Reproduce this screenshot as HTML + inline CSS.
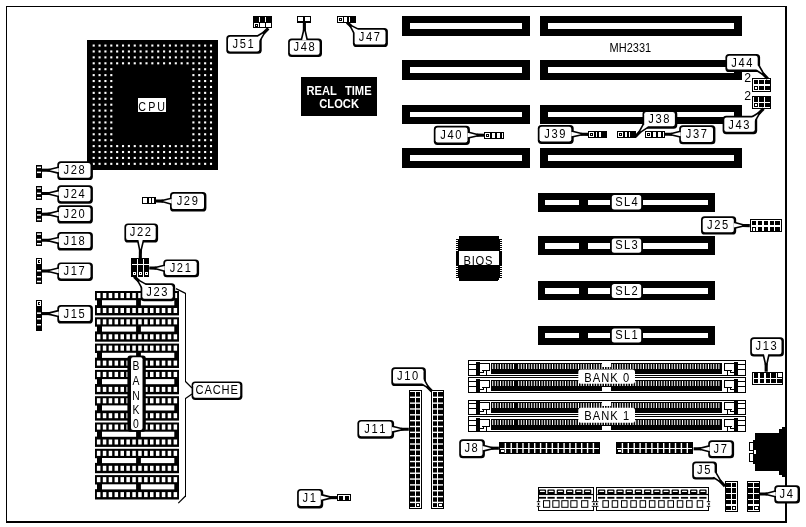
<!DOCTYPE html>
<html><head><meta charset="utf-8"><title>MH2331</title>
<style>
html,body{margin:0;padding:0;background:#fff;}
body{width:806px;height:527px;overflow:hidden;}
svg{display:block;font-family:"Liberation Sans",sans-serif;will-change:transform;}
</style></head><body>
<svg width="806" height="527" viewBox="0 0 806 527" shape-rendering="crispEdges">
<rect x="0" y="0" width="806" height="527" fill="#fff"/>
<rect x="6" y="6" width="781" height="1" fill="#000"/>
<rect x="6" y="6" width="1.2" height="516.5" fill="#000"/>
<rect x="785.2" y="6" width="1.8" height="516.5" fill="#000"/>
<rect x="6" y="520.6" width="781" height="2" fill="#000"/>
<rect x="87" y="40" width="131" height="130" fill="#000"/>
<rect x="92.65" y="44.5" width="2.1" height="2.1" fill="#fff" shape-rendering="geometricPrecision"/>
<rect x="98.52" y="44.5" width="2.1" height="2.1" fill="#fff" shape-rendering="geometricPrecision"/>
<rect x="104.38" y="44.5" width="2.1" height="2.1" fill="#fff" shape-rendering="geometricPrecision"/>
<rect x="110.25" y="44.5" width="2.1" height="2.1" fill="#fff" shape-rendering="geometricPrecision"/>
<rect x="116.11" y="44.5" width="2.1" height="2.1" fill="#fff" shape-rendering="geometricPrecision"/>
<rect x="121.98" y="44.5" width="2.1" height="2.1" fill="#fff" shape-rendering="geometricPrecision"/>
<rect x="127.84" y="44.5" width="2.1" height="2.1" fill="#fff" shape-rendering="geometricPrecision"/>
<rect x="133.7" y="44.5" width="2.1" height="2.1" fill="#fff" shape-rendering="geometricPrecision"/>
<rect x="139.57" y="44.5" width="2.1" height="2.1" fill="#fff" shape-rendering="geometricPrecision"/>
<rect x="145.44" y="44.5" width="2.1" height="2.1" fill="#fff" shape-rendering="geometricPrecision"/>
<rect x="151.3" y="44.5" width="2.1" height="2.1" fill="#fff" shape-rendering="geometricPrecision"/>
<rect x="157.16" y="44.5" width="2.1" height="2.1" fill="#fff" shape-rendering="geometricPrecision"/>
<rect x="163.03" y="44.5" width="2.1" height="2.1" fill="#fff" shape-rendering="geometricPrecision"/>
<rect x="168.89" y="44.5" width="2.1" height="2.1" fill="#fff" shape-rendering="geometricPrecision"/>
<rect x="174.76" y="44.5" width="2.1" height="2.1" fill="#fff" shape-rendering="geometricPrecision"/>
<rect x="180.62" y="44.5" width="2.1" height="2.1" fill="#fff" shape-rendering="geometricPrecision"/>
<rect x="186.49" y="44.5" width="2.1" height="2.1" fill="#fff" shape-rendering="geometricPrecision"/>
<rect x="192.35" y="44.5" width="2.1" height="2.1" fill="#fff" shape-rendering="geometricPrecision"/>
<rect x="198.22" y="44.5" width="2.1" height="2.1" fill="#fff" shape-rendering="geometricPrecision"/>
<rect x="204.08" y="44.5" width="2.1" height="2.1" fill="#fff" shape-rendering="geometricPrecision"/>
<rect x="209.95" y="44.5" width="2.1" height="2.1" fill="#fff" shape-rendering="geometricPrecision"/>
<rect x="92.65" y="50.41" width="2.1" height="2.1" fill="#fff" shape-rendering="geometricPrecision"/>
<rect x="98.52" y="50.41" width="2.1" height="2.1" fill="#fff" shape-rendering="geometricPrecision"/>
<rect x="104.38" y="50.41" width="2.1" height="2.1" fill="#fff" shape-rendering="geometricPrecision"/>
<rect x="110.25" y="50.41" width="2.1" height="2.1" fill="#fff" shape-rendering="geometricPrecision"/>
<rect x="116.11" y="50.41" width="2.1" height="2.1" fill="#fff" shape-rendering="geometricPrecision"/>
<rect x="121.98" y="50.41" width="2.1" height="2.1" fill="#fff" shape-rendering="geometricPrecision"/>
<rect x="127.84" y="50.41" width="2.1" height="2.1" fill="#fff" shape-rendering="geometricPrecision"/>
<rect x="133.7" y="50.41" width="2.1" height="2.1" fill="#fff" shape-rendering="geometricPrecision"/>
<rect x="139.57" y="50.41" width="2.1" height="2.1" fill="#fff" shape-rendering="geometricPrecision"/>
<rect x="145.44" y="50.41" width="2.1" height="2.1" fill="#fff" shape-rendering="geometricPrecision"/>
<rect x="151.3" y="50.41" width="2.1" height="2.1" fill="#fff" shape-rendering="geometricPrecision"/>
<rect x="157.16" y="50.41" width="2.1" height="2.1" fill="#fff" shape-rendering="geometricPrecision"/>
<rect x="163.03" y="50.41" width="2.1" height="2.1" fill="#fff" shape-rendering="geometricPrecision"/>
<rect x="168.89" y="50.41" width="2.1" height="2.1" fill="#fff" shape-rendering="geometricPrecision"/>
<rect x="174.76" y="50.41" width="2.1" height="2.1" fill="#fff" shape-rendering="geometricPrecision"/>
<rect x="180.62" y="50.41" width="2.1" height="2.1" fill="#fff" shape-rendering="geometricPrecision"/>
<rect x="186.49" y="50.41" width="2.1" height="2.1" fill="#fff" shape-rendering="geometricPrecision"/>
<rect x="192.35" y="50.41" width="2.1" height="2.1" fill="#fff" shape-rendering="geometricPrecision"/>
<rect x="198.22" y="50.41" width="2.1" height="2.1" fill="#fff" shape-rendering="geometricPrecision"/>
<rect x="204.08" y="50.41" width="2.1" height="2.1" fill="#fff" shape-rendering="geometricPrecision"/>
<rect x="209.95" y="50.41" width="2.1" height="2.1" fill="#fff" shape-rendering="geometricPrecision"/>
<rect x="92.65" y="56.33" width="2.1" height="2.1" fill="#fff" shape-rendering="geometricPrecision"/>
<rect x="98.52" y="56.33" width="2.1" height="2.1" fill="#fff" shape-rendering="geometricPrecision"/>
<rect x="104.38" y="56.33" width="2.1" height="2.1" fill="#fff" shape-rendering="geometricPrecision"/>
<rect x="110.25" y="56.33" width="2.1" height="2.1" fill="#fff" shape-rendering="geometricPrecision"/>
<rect x="116.11" y="56.33" width="2.1" height="2.1" fill="#fff" shape-rendering="geometricPrecision"/>
<rect x="121.98" y="56.33" width="2.1" height="2.1" fill="#fff" shape-rendering="geometricPrecision"/>
<rect x="127.84" y="56.33" width="2.1" height="2.1" fill="#fff" shape-rendering="geometricPrecision"/>
<rect x="133.7" y="56.33" width="2.1" height="2.1" fill="#fff" shape-rendering="geometricPrecision"/>
<rect x="139.57" y="56.33" width="2.1" height="2.1" fill="#fff" shape-rendering="geometricPrecision"/>
<rect x="145.44" y="56.33" width="2.1" height="2.1" fill="#fff" shape-rendering="geometricPrecision"/>
<rect x="151.3" y="56.33" width="2.1" height="2.1" fill="#fff" shape-rendering="geometricPrecision"/>
<rect x="157.16" y="56.33" width="2.1" height="2.1" fill="#fff" shape-rendering="geometricPrecision"/>
<rect x="163.03" y="56.33" width="2.1" height="2.1" fill="#fff" shape-rendering="geometricPrecision"/>
<rect x="168.89" y="56.33" width="2.1" height="2.1" fill="#fff" shape-rendering="geometricPrecision"/>
<rect x="174.76" y="56.33" width="2.1" height="2.1" fill="#fff" shape-rendering="geometricPrecision"/>
<rect x="180.62" y="56.33" width="2.1" height="2.1" fill="#fff" shape-rendering="geometricPrecision"/>
<rect x="186.49" y="56.33" width="2.1" height="2.1" fill="#fff" shape-rendering="geometricPrecision"/>
<rect x="192.35" y="56.33" width="2.1" height="2.1" fill="#fff" shape-rendering="geometricPrecision"/>
<rect x="198.22" y="56.33" width="2.1" height="2.1" fill="#fff" shape-rendering="geometricPrecision"/>
<rect x="204.08" y="56.33" width="2.1" height="2.1" fill="#fff" shape-rendering="geometricPrecision"/>
<rect x="209.95" y="56.33" width="2.1" height="2.1" fill="#fff" shape-rendering="geometricPrecision"/>
<rect x="92.65" y="62.25" width="2.1" height="2.1" fill="#fff" shape-rendering="geometricPrecision"/>
<rect x="98.52" y="62.25" width="2.1" height="2.1" fill="#fff" shape-rendering="geometricPrecision"/>
<rect x="104.38" y="62.25" width="2.1" height="2.1" fill="#fff" shape-rendering="geometricPrecision"/>
<rect x="110.25" y="62.25" width="2.1" height="2.1" fill="#fff" shape-rendering="geometricPrecision"/>
<rect x="116.11" y="62.25" width="2.1" height="2.1" fill="#fff" shape-rendering="geometricPrecision"/>
<rect x="121.98" y="62.25" width="2.1" height="2.1" fill="#fff" shape-rendering="geometricPrecision"/>
<rect x="127.84" y="62.25" width="2.1" height="2.1" fill="#fff" shape-rendering="geometricPrecision"/>
<rect x="133.7" y="62.25" width="2.1" height="2.1" fill="#fff" shape-rendering="geometricPrecision"/>
<rect x="139.57" y="62.25" width="2.1" height="2.1" fill="#fff" shape-rendering="geometricPrecision"/>
<rect x="145.44" y="62.25" width="2.1" height="2.1" fill="#fff" shape-rendering="geometricPrecision"/>
<rect x="151.3" y="62.25" width="2.1" height="2.1" fill="#fff" shape-rendering="geometricPrecision"/>
<rect x="157.16" y="62.25" width="2.1" height="2.1" fill="#fff" shape-rendering="geometricPrecision"/>
<rect x="163.03" y="62.25" width="2.1" height="2.1" fill="#fff" shape-rendering="geometricPrecision"/>
<rect x="168.89" y="62.25" width="2.1" height="2.1" fill="#fff" shape-rendering="geometricPrecision"/>
<rect x="174.76" y="62.25" width="2.1" height="2.1" fill="#fff" shape-rendering="geometricPrecision"/>
<rect x="180.62" y="62.25" width="2.1" height="2.1" fill="#fff" shape-rendering="geometricPrecision"/>
<rect x="186.49" y="62.25" width="2.1" height="2.1" fill="#fff" shape-rendering="geometricPrecision"/>
<rect x="192.35" y="62.25" width="2.1" height="2.1" fill="#fff" shape-rendering="geometricPrecision"/>
<rect x="198.22" y="62.25" width="2.1" height="2.1" fill="#fff" shape-rendering="geometricPrecision"/>
<rect x="204.08" y="62.25" width="2.1" height="2.1" fill="#fff" shape-rendering="geometricPrecision"/>
<rect x="209.95" y="62.25" width="2.1" height="2.1" fill="#fff" shape-rendering="geometricPrecision"/>
<rect x="92.65" y="68.16" width="2.1" height="2.1" fill="#fff" shape-rendering="geometricPrecision"/>
<rect x="98.52" y="68.16" width="2.1" height="2.1" fill="#fff" shape-rendering="geometricPrecision"/>
<rect x="104.38" y="68.16" width="2.1" height="2.1" fill="#fff" shape-rendering="geometricPrecision"/>
<rect x="110.25" y="68.16" width="2.1" height="2.1" fill="#fff" shape-rendering="geometricPrecision"/>
<rect x="192.35" y="68.16" width="2.1" height="2.1" fill="#fff" shape-rendering="geometricPrecision"/>
<rect x="198.22" y="68.16" width="2.1" height="2.1" fill="#fff" shape-rendering="geometricPrecision"/>
<rect x="204.08" y="68.16" width="2.1" height="2.1" fill="#fff" shape-rendering="geometricPrecision"/>
<rect x="209.95" y="68.16" width="2.1" height="2.1" fill="#fff" shape-rendering="geometricPrecision"/>
<rect x="92.65" y="74.08" width="2.1" height="2.1" fill="#fff" shape-rendering="geometricPrecision"/>
<rect x="98.52" y="74.08" width="2.1" height="2.1" fill="#fff" shape-rendering="geometricPrecision"/>
<rect x="104.38" y="74.08" width="2.1" height="2.1" fill="#fff" shape-rendering="geometricPrecision"/>
<rect x="110.25" y="74.08" width="2.1" height="2.1" fill="#fff" shape-rendering="geometricPrecision"/>
<rect x="192.35" y="74.08" width="2.1" height="2.1" fill="#fff" shape-rendering="geometricPrecision"/>
<rect x="198.22" y="74.08" width="2.1" height="2.1" fill="#fff" shape-rendering="geometricPrecision"/>
<rect x="204.08" y="74.08" width="2.1" height="2.1" fill="#fff" shape-rendering="geometricPrecision"/>
<rect x="209.95" y="74.08" width="2.1" height="2.1" fill="#fff" shape-rendering="geometricPrecision"/>
<rect x="92.65" y="79.99" width="2.1" height="2.1" fill="#fff" shape-rendering="geometricPrecision"/>
<rect x="98.52" y="79.99" width="2.1" height="2.1" fill="#fff" shape-rendering="geometricPrecision"/>
<rect x="104.38" y="79.99" width="2.1" height="2.1" fill="#fff" shape-rendering="geometricPrecision"/>
<rect x="110.25" y="79.99" width="2.1" height="2.1" fill="#fff" shape-rendering="geometricPrecision"/>
<rect x="192.35" y="79.99" width="2.1" height="2.1" fill="#fff" shape-rendering="geometricPrecision"/>
<rect x="198.22" y="79.99" width="2.1" height="2.1" fill="#fff" shape-rendering="geometricPrecision"/>
<rect x="204.08" y="79.99" width="2.1" height="2.1" fill="#fff" shape-rendering="geometricPrecision"/>
<rect x="209.95" y="79.99" width="2.1" height="2.1" fill="#fff" shape-rendering="geometricPrecision"/>
<rect x="92.65" y="85.91" width="2.1" height="2.1" fill="#fff" shape-rendering="geometricPrecision"/>
<rect x="98.52" y="85.91" width="2.1" height="2.1" fill="#fff" shape-rendering="geometricPrecision"/>
<rect x="104.38" y="85.91" width="2.1" height="2.1" fill="#fff" shape-rendering="geometricPrecision"/>
<rect x="110.25" y="85.91" width="2.1" height="2.1" fill="#fff" shape-rendering="geometricPrecision"/>
<rect x="192.35" y="85.91" width="2.1" height="2.1" fill="#fff" shape-rendering="geometricPrecision"/>
<rect x="198.22" y="85.91" width="2.1" height="2.1" fill="#fff" shape-rendering="geometricPrecision"/>
<rect x="204.08" y="85.91" width="2.1" height="2.1" fill="#fff" shape-rendering="geometricPrecision"/>
<rect x="209.95" y="85.91" width="2.1" height="2.1" fill="#fff" shape-rendering="geometricPrecision"/>
<rect x="92.65" y="91.82" width="2.1" height="2.1" fill="#fff" shape-rendering="geometricPrecision"/>
<rect x="98.52" y="91.82" width="2.1" height="2.1" fill="#fff" shape-rendering="geometricPrecision"/>
<rect x="104.38" y="91.82" width="2.1" height="2.1" fill="#fff" shape-rendering="geometricPrecision"/>
<rect x="110.25" y="91.82" width="2.1" height="2.1" fill="#fff" shape-rendering="geometricPrecision"/>
<rect x="192.35" y="91.82" width="2.1" height="2.1" fill="#fff" shape-rendering="geometricPrecision"/>
<rect x="198.22" y="91.82" width="2.1" height="2.1" fill="#fff" shape-rendering="geometricPrecision"/>
<rect x="204.08" y="91.82" width="2.1" height="2.1" fill="#fff" shape-rendering="geometricPrecision"/>
<rect x="209.95" y="91.82" width="2.1" height="2.1" fill="#fff" shape-rendering="geometricPrecision"/>
<rect x="92.65" y="97.73" width="2.1" height="2.1" fill="#fff" shape-rendering="geometricPrecision"/>
<rect x="98.52" y="97.73" width="2.1" height="2.1" fill="#fff" shape-rendering="geometricPrecision"/>
<rect x="104.38" y="97.73" width="2.1" height="2.1" fill="#fff" shape-rendering="geometricPrecision"/>
<rect x="110.25" y="97.73" width="2.1" height="2.1" fill="#fff" shape-rendering="geometricPrecision"/>
<rect x="192.35" y="97.73" width="2.1" height="2.1" fill="#fff" shape-rendering="geometricPrecision"/>
<rect x="198.22" y="97.73" width="2.1" height="2.1" fill="#fff" shape-rendering="geometricPrecision"/>
<rect x="204.08" y="97.73" width="2.1" height="2.1" fill="#fff" shape-rendering="geometricPrecision"/>
<rect x="209.95" y="97.73" width="2.1" height="2.1" fill="#fff" shape-rendering="geometricPrecision"/>
<rect x="92.65" y="103.65" width="2.1" height="2.1" fill="#fff" shape-rendering="geometricPrecision"/>
<rect x="98.52" y="103.65" width="2.1" height="2.1" fill="#fff" shape-rendering="geometricPrecision"/>
<rect x="104.38" y="103.65" width="2.1" height="2.1" fill="#fff" shape-rendering="geometricPrecision"/>
<rect x="110.25" y="103.65" width="2.1" height="2.1" fill="#fff" shape-rendering="geometricPrecision"/>
<rect x="192.35" y="103.65" width="2.1" height="2.1" fill="#fff" shape-rendering="geometricPrecision"/>
<rect x="198.22" y="103.65" width="2.1" height="2.1" fill="#fff" shape-rendering="geometricPrecision"/>
<rect x="204.08" y="103.65" width="2.1" height="2.1" fill="#fff" shape-rendering="geometricPrecision"/>
<rect x="209.95" y="103.65" width="2.1" height="2.1" fill="#fff" shape-rendering="geometricPrecision"/>
<rect x="92.65" y="109.56" width="2.1" height="2.1" fill="#fff" shape-rendering="geometricPrecision"/>
<rect x="98.52" y="109.56" width="2.1" height="2.1" fill="#fff" shape-rendering="geometricPrecision"/>
<rect x="104.38" y="109.56" width="2.1" height="2.1" fill="#fff" shape-rendering="geometricPrecision"/>
<rect x="110.25" y="109.56" width="2.1" height="2.1" fill="#fff" shape-rendering="geometricPrecision"/>
<rect x="192.35" y="109.56" width="2.1" height="2.1" fill="#fff" shape-rendering="geometricPrecision"/>
<rect x="198.22" y="109.56" width="2.1" height="2.1" fill="#fff" shape-rendering="geometricPrecision"/>
<rect x="204.08" y="109.56" width="2.1" height="2.1" fill="#fff" shape-rendering="geometricPrecision"/>
<rect x="209.95" y="109.56" width="2.1" height="2.1" fill="#fff" shape-rendering="geometricPrecision"/>
<rect x="92.65" y="115.48" width="2.1" height="2.1" fill="#fff" shape-rendering="geometricPrecision"/>
<rect x="98.52" y="115.48" width="2.1" height="2.1" fill="#fff" shape-rendering="geometricPrecision"/>
<rect x="104.38" y="115.48" width="2.1" height="2.1" fill="#fff" shape-rendering="geometricPrecision"/>
<rect x="110.25" y="115.48" width="2.1" height="2.1" fill="#fff" shape-rendering="geometricPrecision"/>
<rect x="192.35" y="115.48" width="2.1" height="2.1" fill="#fff" shape-rendering="geometricPrecision"/>
<rect x="198.22" y="115.48" width="2.1" height="2.1" fill="#fff" shape-rendering="geometricPrecision"/>
<rect x="204.08" y="115.48" width="2.1" height="2.1" fill="#fff" shape-rendering="geometricPrecision"/>
<rect x="209.95" y="115.48" width="2.1" height="2.1" fill="#fff" shape-rendering="geometricPrecision"/>
<rect x="92.65" y="121.39" width="2.1" height="2.1" fill="#fff" shape-rendering="geometricPrecision"/>
<rect x="98.52" y="121.39" width="2.1" height="2.1" fill="#fff" shape-rendering="geometricPrecision"/>
<rect x="104.38" y="121.39" width="2.1" height="2.1" fill="#fff" shape-rendering="geometricPrecision"/>
<rect x="110.25" y="121.39" width="2.1" height="2.1" fill="#fff" shape-rendering="geometricPrecision"/>
<rect x="192.35" y="121.39" width="2.1" height="2.1" fill="#fff" shape-rendering="geometricPrecision"/>
<rect x="198.22" y="121.39" width="2.1" height="2.1" fill="#fff" shape-rendering="geometricPrecision"/>
<rect x="204.08" y="121.39" width="2.1" height="2.1" fill="#fff" shape-rendering="geometricPrecision"/>
<rect x="209.95" y="121.39" width="2.1" height="2.1" fill="#fff" shape-rendering="geometricPrecision"/>
<rect x="92.65" y="127.31" width="2.1" height="2.1" fill="#fff" shape-rendering="geometricPrecision"/>
<rect x="98.52" y="127.31" width="2.1" height="2.1" fill="#fff" shape-rendering="geometricPrecision"/>
<rect x="104.38" y="127.31" width="2.1" height="2.1" fill="#fff" shape-rendering="geometricPrecision"/>
<rect x="110.25" y="127.31" width="2.1" height="2.1" fill="#fff" shape-rendering="geometricPrecision"/>
<rect x="192.35" y="127.31" width="2.1" height="2.1" fill="#fff" shape-rendering="geometricPrecision"/>
<rect x="198.22" y="127.31" width="2.1" height="2.1" fill="#fff" shape-rendering="geometricPrecision"/>
<rect x="204.08" y="127.31" width="2.1" height="2.1" fill="#fff" shape-rendering="geometricPrecision"/>
<rect x="209.95" y="127.31" width="2.1" height="2.1" fill="#fff" shape-rendering="geometricPrecision"/>
<rect x="92.65" y="133.22" width="2.1" height="2.1" fill="#fff" shape-rendering="geometricPrecision"/>
<rect x="98.52" y="133.22" width="2.1" height="2.1" fill="#fff" shape-rendering="geometricPrecision"/>
<rect x="104.38" y="133.22" width="2.1" height="2.1" fill="#fff" shape-rendering="geometricPrecision"/>
<rect x="110.25" y="133.22" width="2.1" height="2.1" fill="#fff" shape-rendering="geometricPrecision"/>
<rect x="192.35" y="133.22" width="2.1" height="2.1" fill="#fff" shape-rendering="geometricPrecision"/>
<rect x="198.22" y="133.22" width="2.1" height="2.1" fill="#fff" shape-rendering="geometricPrecision"/>
<rect x="204.08" y="133.22" width="2.1" height="2.1" fill="#fff" shape-rendering="geometricPrecision"/>
<rect x="209.95" y="133.22" width="2.1" height="2.1" fill="#fff" shape-rendering="geometricPrecision"/>
<rect x="92.65" y="139.14" width="2.1" height="2.1" fill="#fff" shape-rendering="geometricPrecision"/>
<rect x="98.52" y="139.14" width="2.1" height="2.1" fill="#fff" shape-rendering="geometricPrecision"/>
<rect x="104.38" y="139.14" width="2.1" height="2.1" fill="#fff" shape-rendering="geometricPrecision"/>
<rect x="110.25" y="139.14" width="2.1" height="2.1" fill="#fff" shape-rendering="geometricPrecision"/>
<rect x="192.35" y="139.14" width="2.1" height="2.1" fill="#fff" shape-rendering="geometricPrecision"/>
<rect x="198.22" y="139.14" width="2.1" height="2.1" fill="#fff" shape-rendering="geometricPrecision"/>
<rect x="204.08" y="139.14" width="2.1" height="2.1" fill="#fff" shape-rendering="geometricPrecision"/>
<rect x="209.95" y="139.14" width="2.1" height="2.1" fill="#fff" shape-rendering="geometricPrecision"/>
<rect x="92.65" y="145.06" width="2.1" height="2.1" fill="#fff" shape-rendering="geometricPrecision"/>
<rect x="98.52" y="145.06" width="2.1" height="2.1" fill="#fff" shape-rendering="geometricPrecision"/>
<rect x="104.38" y="145.06" width="2.1" height="2.1" fill="#fff" shape-rendering="geometricPrecision"/>
<rect x="110.25" y="145.06" width="2.1" height="2.1" fill="#fff" shape-rendering="geometricPrecision"/>
<rect x="116.11" y="145.06" width="2.1" height="2.1" fill="#fff" shape-rendering="geometricPrecision"/>
<rect x="121.98" y="145.06" width="2.1" height="2.1" fill="#fff" shape-rendering="geometricPrecision"/>
<rect x="127.84" y="145.06" width="2.1" height="2.1" fill="#fff" shape-rendering="geometricPrecision"/>
<rect x="133.7" y="145.06" width="2.1" height="2.1" fill="#fff" shape-rendering="geometricPrecision"/>
<rect x="139.57" y="145.06" width="2.1" height="2.1" fill="#fff" shape-rendering="geometricPrecision"/>
<rect x="145.44" y="145.06" width="2.1" height="2.1" fill="#fff" shape-rendering="geometricPrecision"/>
<rect x="151.3" y="145.06" width="2.1" height="2.1" fill="#fff" shape-rendering="geometricPrecision"/>
<rect x="157.16" y="145.06" width="2.1" height="2.1" fill="#fff" shape-rendering="geometricPrecision"/>
<rect x="163.03" y="145.06" width="2.1" height="2.1" fill="#fff" shape-rendering="geometricPrecision"/>
<rect x="168.89" y="145.06" width="2.1" height="2.1" fill="#fff" shape-rendering="geometricPrecision"/>
<rect x="174.76" y="145.06" width="2.1" height="2.1" fill="#fff" shape-rendering="geometricPrecision"/>
<rect x="180.62" y="145.06" width="2.1" height="2.1" fill="#fff" shape-rendering="geometricPrecision"/>
<rect x="186.49" y="145.06" width="2.1" height="2.1" fill="#fff" shape-rendering="geometricPrecision"/>
<rect x="192.35" y="145.06" width="2.1" height="2.1" fill="#fff" shape-rendering="geometricPrecision"/>
<rect x="198.22" y="145.06" width="2.1" height="2.1" fill="#fff" shape-rendering="geometricPrecision"/>
<rect x="204.08" y="145.06" width="2.1" height="2.1" fill="#fff" shape-rendering="geometricPrecision"/>
<rect x="209.95" y="145.06" width="2.1" height="2.1" fill="#fff" shape-rendering="geometricPrecision"/>
<rect x="92.65" y="150.97" width="2.1" height="2.1" fill="#fff" shape-rendering="geometricPrecision"/>
<rect x="98.52" y="150.97" width="2.1" height="2.1" fill="#fff" shape-rendering="geometricPrecision"/>
<rect x="104.38" y="150.97" width="2.1" height="2.1" fill="#fff" shape-rendering="geometricPrecision"/>
<rect x="110.25" y="150.97" width="2.1" height="2.1" fill="#fff" shape-rendering="geometricPrecision"/>
<rect x="116.11" y="150.97" width="2.1" height="2.1" fill="#fff" shape-rendering="geometricPrecision"/>
<rect x="121.98" y="150.97" width="2.1" height="2.1" fill="#fff" shape-rendering="geometricPrecision"/>
<rect x="127.84" y="150.97" width="2.1" height="2.1" fill="#fff" shape-rendering="geometricPrecision"/>
<rect x="133.7" y="150.97" width="2.1" height="2.1" fill="#fff" shape-rendering="geometricPrecision"/>
<rect x="139.57" y="150.97" width="2.1" height="2.1" fill="#fff" shape-rendering="geometricPrecision"/>
<rect x="145.44" y="150.97" width="2.1" height="2.1" fill="#fff" shape-rendering="geometricPrecision"/>
<rect x="151.3" y="150.97" width="2.1" height="2.1" fill="#fff" shape-rendering="geometricPrecision"/>
<rect x="157.16" y="150.97" width="2.1" height="2.1" fill="#fff" shape-rendering="geometricPrecision"/>
<rect x="163.03" y="150.97" width="2.1" height="2.1" fill="#fff" shape-rendering="geometricPrecision"/>
<rect x="168.89" y="150.97" width="2.1" height="2.1" fill="#fff" shape-rendering="geometricPrecision"/>
<rect x="174.76" y="150.97" width="2.1" height="2.1" fill="#fff" shape-rendering="geometricPrecision"/>
<rect x="180.62" y="150.97" width="2.1" height="2.1" fill="#fff" shape-rendering="geometricPrecision"/>
<rect x="186.49" y="150.97" width="2.1" height="2.1" fill="#fff" shape-rendering="geometricPrecision"/>
<rect x="192.35" y="150.97" width="2.1" height="2.1" fill="#fff" shape-rendering="geometricPrecision"/>
<rect x="198.22" y="150.97" width="2.1" height="2.1" fill="#fff" shape-rendering="geometricPrecision"/>
<rect x="204.08" y="150.97" width="2.1" height="2.1" fill="#fff" shape-rendering="geometricPrecision"/>
<rect x="209.95" y="150.97" width="2.1" height="2.1" fill="#fff" shape-rendering="geometricPrecision"/>
<rect x="92.65" y="156.88" width="2.1" height="2.1" fill="#fff" shape-rendering="geometricPrecision"/>
<rect x="98.52" y="156.88" width="2.1" height="2.1" fill="#fff" shape-rendering="geometricPrecision"/>
<rect x="104.38" y="156.88" width="2.1" height="2.1" fill="#fff" shape-rendering="geometricPrecision"/>
<rect x="110.25" y="156.88" width="2.1" height="2.1" fill="#fff" shape-rendering="geometricPrecision"/>
<rect x="116.11" y="156.88" width="2.1" height="2.1" fill="#fff" shape-rendering="geometricPrecision"/>
<rect x="121.98" y="156.88" width="2.1" height="2.1" fill="#fff" shape-rendering="geometricPrecision"/>
<rect x="127.84" y="156.88" width="2.1" height="2.1" fill="#fff" shape-rendering="geometricPrecision"/>
<rect x="133.7" y="156.88" width="2.1" height="2.1" fill="#fff" shape-rendering="geometricPrecision"/>
<rect x="139.57" y="156.88" width="2.1" height="2.1" fill="#fff" shape-rendering="geometricPrecision"/>
<rect x="145.44" y="156.88" width="2.1" height="2.1" fill="#fff" shape-rendering="geometricPrecision"/>
<rect x="151.3" y="156.88" width="2.1" height="2.1" fill="#fff" shape-rendering="geometricPrecision"/>
<rect x="157.16" y="156.88" width="2.1" height="2.1" fill="#fff" shape-rendering="geometricPrecision"/>
<rect x="163.03" y="156.88" width="2.1" height="2.1" fill="#fff" shape-rendering="geometricPrecision"/>
<rect x="168.89" y="156.88" width="2.1" height="2.1" fill="#fff" shape-rendering="geometricPrecision"/>
<rect x="174.76" y="156.88" width="2.1" height="2.1" fill="#fff" shape-rendering="geometricPrecision"/>
<rect x="180.62" y="156.88" width="2.1" height="2.1" fill="#fff" shape-rendering="geometricPrecision"/>
<rect x="186.49" y="156.88" width="2.1" height="2.1" fill="#fff" shape-rendering="geometricPrecision"/>
<rect x="192.35" y="156.88" width="2.1" height="2.1" fill="#fff" shape-rendering="geometricPrecision"/>
<rect x="198.22" y="156.88" width="2.1" height="2.1" fill="#fff" shape-rendering="geometricPrecision"/>
<rect x="204.08" y="156.88" width="2.1" height="2.1" fill="#fff" shape-rendering="geometricPrecision"/>
<rect x="209.95" y="156.88" width="2.1" height="2.1" fill="#fff" shape-rendering="geometricPrecision"/>
<rect x="92.65" y="162.8" width="2.1" height="2.1" fill="#fff" shape-rendering="geometricPrecision"/>
<rect x="98.52" y="162.8" width="2.1" height="2.1" fill="#fff" shape-rendering="geometricPrecision"/>
<rect x="104.38" y="162.8" width="2.1" height="2.1" fill="#fff" shape-rendering="geometricPrecision"/>
<rect x="110.25" y="162.8" width="2.1" height="2.1" fill="#fff" shape-rendering="geometricPrecision"/>
<rect x="116.11" y="162.8" width="2.1" height="2.1" fill="#fff" shape-rendering="geometricPrecision"/>
<rect x="121.98" y="162.8" width="2.1" height="2.1" fill="#fff" shape-rendering="geometricPrecision"/>
<rect x="127.84" y="162.8" width="2.1" height="2.1" fill="#fff" shape-rendering="geometricPrecision"/>
<rect x="133.7" y="162.8" width="2.1" height="2.1" fill="#fff" shape-rendering="geometricPrecision"/>
<rect x="139.57" y="162.8" width="2.1" height="2.1" fill="#fff" shape-rendering="geometricPrecision"/>
<rect x="145.44" y="162.8" width="2.1" height="2.1" fill="#fff" shape-rendering="geometricPrecision"/>
<rect x="151.3" y="162.8" width="2.1" height="2.1" fill="#fff" shape-rendering="geometricPrecision"/>
<rect x="157.16" y="162.8" width="2.1" height="2.1" fill="#fff" shape-rendering="geometricPrecision"/>
<rect x="163.03" y="162.8" width="2.1" height="2.1" fill="#fff" shape-rendering="geometricPrecision"/>
<rect x="168.89" y="162.8" width="2.1" height="2.1" fill="#fff" shape-rendering="geometricPrecision"/>
<rect x="174.76" y="162.8" width="2.1" height="2.1" fill="#fff" shape-rendering="geometricPrecision"/>
<rect x="180.62" y="162.8" width="2.1" height="2.1" fill="#fff" shape-rendering="geometricPrecision"/>
<rect x="186.49" y="162.8" width="2.1" height="2.1" fill="#fff" shape-rendering="geometricPrecision"/>
<rect x="192.35" y="162.8" width="2.1" height="2.1" fill="#fff" shape-rendering="geometricPrecision"/>
<rect x="198.22" y="162.8" width="2.1" height="2.1" fill="#fff" shape-rendering="geometricPrecision"/>
<rect x="204.08" y="162.8" width="2.1" height="2.1" fill="#fff" shape-rendering="geometricPrecision"/>
<rect x="209.95" y="162.8" width="2.1" height="2.1" fill="#fff" shape-rendering="geometricPrecision"/>
<rect x="138" y="98" width="28" height="14" fill="#fff"/>
<text x="0" y="110.8" font-size="13.4" text-anchor="middle" font-weight="normal" fill="#000" transform="translate(142.1 0) scale(0.8 1)">C</text>
<text x="0" y="110.8" font-size="13.4" text-anchor="middle" font-weight="normal" fill="#000" transform="translate(151.8 0) scale(0.8 1)">P</text>
<text x="0" y="110.8" font-size="13.4" text-anchor="middle" font-weight="normal" fill="#000" transform="translate(161.1 0) scale(0.8 1)">U</text>
<rect x="301" y="77" width="76" height="39" fill="#000"/>
<text x="0" y="94.7" font-size="13" text-anchor="start" font-weight="bold" fill="#fff" transform="translate(306.4 0) scale(0.86 1)">REAL</text>
<text x="0" y="94.7" font-size="13" text-anchor="end" font-weight="bold" fill="#fff" transform="translate(371.6 0) scale(0.86 1)">TIME</text>
<text x="0" y="107.7" font-size="13" text-anchor="middle" font-weight="bold" fill="#fff" transform="translate(339.1 0) scale(0.86 1)">CLOCK</text>
<rect x="402" y="16.25" width="128" height="19.5" fill="#000"/>
<rect x="410" y="22.75" width="112" height="6.5" fill="#fff"/>
<rect x="539.5" y="16.25" width="202" height="19.5" fill="#000"/>
<rect x="547.5" y="22.75" width="186.5" height="6.5" fill="#fff"/>
<rect x="402" y="60" width="128" height="19.75" fill="#000"/>
<rect x="410" y="66.75" width="112" height="6.25" fill="#fff"/>
<rect x="539.5" y="60" width="202" height="19.75" fill="#000"/>
<rect x="547.5" y="66.75" width="186.5" height="6.25" fill="#fff"/>
<rect x="402" y="105" width="128" height="18.75" fill="#000"/>
<rect x="410" y="111.5" width="112" height="5.75" fill="#fff"/>
<rect x="539.5" y="105" width="202" height="18.75" fill="#000"/>
<rect x="547.5" y="111.5" width="186.5" height="5.75" fill="#fff"/>
<rect x="402" y="148" width="128" height="19.5" fill="#000"/>
<rect x="410" y="154.5" width="112" height="6.25" fill="#fff"/>
<rect x="539.5" y="148" width="202" height="19.5" fill="#000"/>
<rect x="547.5" y="154.5" width="186.5" height="6.25" fill="#fff"/>
<text x="0" y="52" font-size="12.1" text-anchor="start" font-weight="normal" fill="#000" transform="translate(609.6 0) scale(0.91 1)">MH2331</text>
<rect x="538" y="193" width="177" height="19" fill="#000"/>
<rect x="545" y="200" width="34" height="5" fill="#fff"/>
<rect x="588" y="200" width="22" height="5" fill="#fff"/>
<rect x="643" y="200" width="65" height="5" fill="#fff"/>
<rect x="611.8" y="195" width="29.4" height="14.6" fill="#fff" rx="2.5" shape-rendering="geometricPrecision"/>
<text x="0" y="206.1" font-size="13.6" text-anchor="middle" font-weight="normal" fill="#000" letter-spacing="1.5" transform="translate(627.12 0) scale(0.82 1)">SL4</text>
<rect x="538" y="236" width="177" height="19" fill="#000"/>
<rect x="545" y="243" width="34" height="6" fill="#fff"/>
<rect x="588" y="243" width="22" height="6" fill="#fff"/>
<rect x="643" y="243" width="65" height="6" fill="#fff"/>
<rect x="611.8" y="238.6" width="29.4" height="14.2" fill="#fff" rx="2.5" shape-rendering="geometricPrecision"/>
<text x="0" y="249.5" font-size="13.6" text-anchor="middle" font-weight="normal" fill="#000" letter-spacing="1.5" transform="translate(627.12 0) scale(0.82 1)">SL3</text>
<rect x="538" y="281" width="177" height="19" fill="#000"/>
<rect x="545" y="288" width="34" height="6" fill="#fff"/>
<rect x="588" y="288" width="22" height="6" fill="#fff"/>
<rect x="643" y="288" width="65" height="6" fill="#fff"/>
<rect x="611.8" y="284" width="29.4" height="14" fill="#fff" rx="2.5" shape-rendering="geometricPrecision"/>
<text x="0" y="294.8" font-size="13.6" text-anchor="middle" font-weight="normal" fill="#000" letter-spacing="1.5" transform="translate(627.12 0) scale(0.82 1)">SL2</text>
<rect x="538" y="326" width="177" height="19" fill="#000"/>
<rect x="545" y="333" width="34" height="5" fill="#fff"/>
<rect x="588" y="333" width="22" height="5" fill="#fff"/>
<rect x="643" y="333" width="65" height="5" fill="#fff"/>
<rect x="611.8" y="328.6" width="29.4" height="14" fill="#fff" rx="2.5" shape-rendering="geometricPrecision"/>
<text x="0" y="339.4" font-size="13.6" text-anchor="middle" font-weight="normal" fill="#000" letter-spacing="1.5" transform="translate(627.12 0) scale(0.82 1)">SL1</text>
<rect x="458.7" y="236" width="40.3" height="44.8" fill="#000" rx="1.5"/>
<rect x="456" y="239" width="45.7" height="39" fill="#000"/>
<rect x="456" y="240" width="2.2" height="1" fill="#fff"/>
<rect x="499.5" y="240" width="2.2" height="1" fill="#fff"/>
<rect x="456" y="242" width="2.2" height="1" fill="#fff"/>
<rect x="499.5" y="242" width="2.2" height="1" fill="#fff"/>
<rect x="456" y="244" width="2.2" height="1" fill="#fff"/>
<rect x="499.5" y="244" width="2.2" height="1" fill="#fff"/>
<rect x="456" y="246" width="2.2" height="1" fill="#fff"/>
<rect x="499.5" y="246" width="2.2" height="1" fill="#fff"/>
<rect x="456" y="248" width="2.2" height="1" fill="#fff"/>
<rect x="499.5" y="248" width="2.2" height="1" fill="#fff"/>
<rect x="456" y="250" width="2.2" height="1" fill="#fff"/>
<rect x="499.5" y="250" width="2.2" height="1" fill="#fff"/>
<rect x="456" y="266" width="2.2" height="1" fill="#fff"/>
<rect x="499.5" y="266" width="2.2" height="1" fill="#fff"/>
<rect x="456" y="268" width="2.2" height="1" fill="#fff"/>
<rect x="499.5" y="268" width="2.2" height="1" fill="#fff"/>
<rect x="456" y="270" width="2.2" height="1" fill="#fff"/>
<rect x="499.5" y="270" width="2.2" height="1" fill="#fff"/>
<rect x="456" y="272" width="2.2" height="1" fill="#fff"/>
<rect x="499.5" y="272" width="2.2" height="1" fill="#fff"/>
<rect x="456" y="274" width="2.2" height="1" fill="#fff"/>
<rect x="499.5" y="274" width="2.2" height="1" fill="#fff"/>
<rect x="456" y="276" width="2.2" height="1" fill="#fff"/>
<rect x="499.5" y="276" width="2.2" height="1" fill="#fff"/>
<rect x="456" y="278" width="2.2" height="1" fill="#fff"/>
<rect x="499.5" y="278" width="2.2" height="1" fill="#fff"/>
<rect x="459" y="251" width="39.7" height="14" fill="#fff"/>
<text x="0" y="264.8" font-size="13" text-anchor="middle" font-weight="normal" fill="#000" letter-spacing="0.9" transform="translate(478.4 0) scale(0.86 1)">BIOS</text>
<rect x="95" y="291" width="84" height="24.4" fill="#000" shape-rendering="geometricPrecision"/>
<rect x="96.9" y="293" width="3.5" height="5.1" fill="#fff" shape-rendering="geometricPrecision"/>
<rect x="96.9" y="308" width="3.5" height="5" fill="#fff" shape-rendering="geometricPrecision"/>
<rect x="102.8" y="293" width="3.5" height="5.1" fill="#fff" shape-rendering="geometricPrecision"/>
<rect x="102.8" y="308" width="3.5" height="5" fill="#fff" shape-rendering="geometricPrecision"/>
<rect x="108.7" y="293" width="3.5" height="5.1" fill="#fff" shape-rendering="geometricPrecision"/>
<rect x="108.7" y="308" width="3.5" height="5" fill="#fff" shape-rendering="geometricPrecision"/>
<rect x="114.6" y="293" width="3.5" height="5.1" fill="#fff" shape-rendering="geometricPrecision"/>
<rect x="114.6" y="308" width="3.5" height="5" fill="#fff" shape-rendering="geometricPrecision"/>
<rect x="120.5" y="293" width="3.5" height="5.1" fill="#fff" shape-rendering="geometricPrecision"/>
<rect x="120.5" y="308" width="3.5" height="5" fill="#fff" shape-rendering="geometricPrecision"/>
<rect x="126.4" y="293" width="3.5" height="5.1" fill="#fff" shape-rendering="geometricPrecision"/>
<rect x="126.4" y="308" width="3.5" height="5" fill="#fff" shape-rendering="geometricPrecision"/>
<rect x="132.3" y="293" width="3.5" height="5.1" fill="#fff" shape-rendering="geometricPrecision"/>
<rect x="132.3" y="308" width="3.5" height="5" fill="#fff" shape-rendering="geometricPrecision"/>
<rect x="138.2" y="293" width="3.5" height="5.1" fill="#fff" shape-rendering="geometricPrecision"/>
<rect x="138.2" y="308" width="3.5" height="5" fill="#fff" shape-rendering="geometricPrecision"/>
<rect x="144.1" y="293" width="3.5" height="5.1" fill="#fff" shape-rendering="geometricPrecision"/>
<rect x="144.1" y="308" width="3.5" height="5" fill="#fff" shape-rendering="geometricPrecision"/>
<rect x="150" y="293" width="3.5" height="5.1" fill="#fff" shape-rendering="geometricPrecision"/>
<rect x="150" y="308" width="3.5" height="5" fill="#fff" shape-rendering="geometricPrecision"/>
<rect x="155.9" y="293" width="3.5" height="5.1" fill="#fff" shape-rendering="geometricPrecision"/>
<rect x="155.9" y="308" width="3.5" height="5" fill="#fff" shape-rendering="geometricPrecision"/>
<rect x="161.8" y="293" width="3.5" height="5.1" fill="#fff" shape-rendering="geometricPrecision"/>
<rect x="161.8" y="308" width="3.5" height="5" fill="#fff" shape-rendering="geometricPrecision"/>
<rect x="167.7" y="293" width="3.5" height="5.1" fill="#fff" shape-rendering="geometricPrecision"/>
<rect x="167.7" y="308" width="3.5" height="5" fill="#fff" shape-rendering="geometricPrecision"/>
<rect x="173.6" y="293" width="3.5" height="5.1" fill="#fff" shape-rendering="geometricPrecision"/>
<rect x="173.6" y="308" width="3.5" height="5" fill="#fff" shape-rendering="geometricPrecision"/>
<rect x="102" y="300.2" width="34.1" height="5.1" fill="#fff" shape-rendering="geometricPrecision"/>
<rect x="140.9" y="300.2" width="33.4" height="5.1" fill="#fff" shape-rendering="geometricPrecision"/>
<rect x="95" y="300.4" width="2" height="4.7" fill="#fff" shape-rendering="geometricPrecision"/>
<rect x="95" y="317.3" width="84" height="24.4" fill="#000" shape-rendering="geometricPrecision"/>
<rect x="96.9" y="319.3" width="3.5" height="5.1" fill="#fff" shape-rendering="geometricPrecision"/>
<rect x="96.9" y="334.3" width="3.5" height="5" fill="#fff" shape-rendering="geometricPrecision"/>
<rect x="102.8" y="319.3" width="3.5" height="5.1" fill="#fff" shape-rendering="geometricPrecision"/>
<rect x="102.8" y="334.3" width="3.5" height="5" fill="#fff" shape-rendering="geometricPrecision"/>
<rect x="108.7" y="319.3" width="3.5" height="5.1" fill="#fff" shape-rendering="geometricPrecision"/>
<rect x="108.7" y="334.3" width="3.5" height="5" fill="#fff" shape-rendering="geometricPrecision"/>
<rect x="114.6" y="319.3" width="3.5" height="5.1" fill="#fff" shape-rendering="geometricPrecision"/>
<rect x="114.6" y="334.3" width="3.5" height="5" fill="#fff" shape-rendering="geometricPrecision"/>
<rect x="120.5" y="319.3" width="3.5" height="5.1" fill="#fff" shape-rendering="geometricPrecision"/>
<rect x="120.5" y="334.3" width="3.5" height="5" fill="#fff" shape-rendering="geometricPrecision"/>
<rect x="126.4" y="319.3" width="3.5" height="5.1" fill="#fff" shape-rendering="geometricPrecision"/>
<rect x="126.4" y="334.3" width="3.5" height="5" fill="#fff" shape-rendering="geometricPrecision"/>
<rect x="132.3" y="319.3" width="3.5" height="5.1" fill="#fff" shape-rendering="geometricPrecision"/>
<rect x="132.3" y="334.3" width="3.5" height="5" fill="#fff" shape-rendering="geometricPrecision"/>
<rect x="138.2" y="319.3" width="3.5" height="5.1" fill="#fff" shape-rendering="geometricPrecision"/>
<rect x="138.2" y="334.3" width="3.5" height="5" fill="#fff" shape-rendering="geometricPrecision"/>
<rect x="144.1" y="319.3" width="3.5" height="5.1" fill="#fff" shape-rendering="geometricPrecision"/>
<rect x="144.1" y="334.3" width="3.5" height="5" fill="#fff" shape-rendering="geometricPrecision"/>
<rect x="150" y="319.3" width="3.5" height="5.1" fill="#fff" shape-rendering="geometricPrecision"/>
<rect x="150" y="334.3" width="3.5" height="5" fill="#fff" shape-rendering="geometricPrecision"/>
<rect x="155.9" y="319.3" width="3.5" height="5.1" fill="#fff" shape-rendering="geometricPrecision"/>
<rect x="155.9" y="334.3" width="3.5" height="5" fill="#fff" shape-rendering="geometricPrecision"/>
<rect x="161.8" y="319.3" width="3.5" height="5.1" fill="#fff" shape-rendering="geometricPrecision"/>
<rect x="161.8" y="334.3" width="3.5" height="5" fill="#fff" shape-rendering="geometricPrecision"/>
<rect x="167.7" y="319.3" width="3.5" height="5.1" fill="#fff" shape-rendering="geometricPrecision"/>
<rect x="167.7" y="334.3" width="3.5" height="5" fill="#fff" shape-rendering="geometricPrecision"/>
<rect x="173.6" y="319.3" width="3.5" height="5.1" fill="#fff" shape-rendering="geometricPrecision"/>
<rect x="173.6" y="334.3" width="3.5" height="5" fill="#fff" shape-rendering="geometricPrecision"/>
<rect x="102" y="326.5" width="34.1" height="5.1" fill="#fff" shape-rendering="geometricPrecision"/>
<rect x="140.9" y="326.5" width="33.4" height="5.1" fill="#fff" shape-rendering="geometricPrecision"/>
<rect x="95" y="326.7" width="2" height="4.7" fill="#fff" shape-rendering="geometricPrecision"/>
<rect x="95" y="343.6" width="84" height="24.4" fill="#000" shape-rendering="geometricPrecision"/>
<rect x="96.9" y="345.6" width="3.5" height="5.1" fill="#fff" shape-rendering="geometricPrecision"/>
<rect x="96.9" y="360.6" width="3.5" height="5" fill="#fff" shape-rendering="geometricPrecision"/>
<rect x="102.8" y="345.6" width="3.5" height="5.1" fill="#fff" shape-rendering="geometricPrecision"/>
<rect x="102.8" y="360.6" width="3.5" height="5" fill="#fff" shape-rendering="geometricPrecision"/>
<rect x="108.7" y="345.6" width="3.5" height="5.1" fill="#fff" shape-rendering="geometricPrecision"/>
<rect x="108.7" y="360.6" width="3.5" height="5" fill="#fff" shape-rendering="geometricPrecision"/>
<rect x="114.6" y="345.6" width="3.5" height="5.1" fill="#fff" shape-rendering="geometricPrecision"/>
<rect x="114.6" y="360.6" width="3.5" height="5" fill="#fff" shape-rendering="geometricPrecision"/>
<rect x="120.5" y="345.6" width="3.5" height="5.1" fill="#fff" shape-rendering="geometricPrecision"/>
<rect x="120.5" y="360.6" width="3.5" height="5" fill="#fff" shape-rendering="geometricPrecision"/>
<rect x="126.4" y="345.6" width="3.5" height="5.1" fill="#fff" shape-rendering="geometricPrecision"/>
<rect x="126.4" y="360.6" width="3.5" height="5" fill="#fff" shape-rendering="geometricPrecision"/>
<rect x="132.3" y="345.6" width="3.5" height="5.1" fill="#fff" shape-rendering="geometricPrecision"/>
<rect x="132.3" y="360.6" width="3.5" height="5" fill="#fff" shape-rendering="geometricPrecision"/>
<rect x="138.2" y="345.6" width="3.5" height="5.1" fill="#fff" shape-rendering="geometricPrecision"/>
<rect x="138.2" y="360.6" width="3.5" height="5" fill="#fff" shape-rendering="geometricPrecision"/>
<rect x="144.1" y="345.6" width="3.5" height="5.1" fill="#fff" shape-rendering="geometricPrecision"/>
<rect x="144.1" y="360.6" width="3.5" height="5" fill="#fff" shape-rendering="geometricPrecision"/>
<rect x="150" y="345.6" width="3.5" height="5.1" fill="#fff" shape-rendering="geometricPrecision"/>
<rect x="150" y="360.6" width="3.5" height="5" fill="#fff" shape-rendering="geometricPrecision"/>
<rect x="155.9" y="345.6" width="3.5" height="5.1" fill="#fff" shape-rendering="geometricPrecision"/>
<rect x="155.9" y="360.6" width="3.5" height="5" fill="#fff" shape-rendering="geometricPrecision"/>
<rect x="161.8" y="345.6" width="3.5" height="5.1" fill="#fff" shape-rendering="geometricPrecision"/>
<rect x="161.8" y="360.6" width="3.5" height="5" fill="#fff" shape-rendering="geometricPrecision"/>
<rect x="167.7" y="345.6" width="3.5" height="5.1" fill="#fff" shape-rendering="geometricPrecision"/>
<rect x="167.7" y="360.6" width="3.5" height="5" fill="#fff" shape-rendering="geometricPrecision"/>
<rect x="173.6" y="345.6" width="3.5" height="5.1" fill="#fff" shape-rendering="geometricPrecision"/>
<rect x="173.6" y="360.6" width="3.5" height="5" fill="#fff" shape-rendering="geometricPrecision"/>
<rect x="102" y="352.8" width="34.1" height="5.1" fill="#fff" shape-rendering="geometricPrecision"/>
<rect x="140.9" y="352.8" width="33.4" height="5.1" fill="#fff" shape-rendering="geometricPrecision"/>
<rect x="95" y="353" width="2" height="4.7" fill="#fff" shape-rendering="geometricPrecision"/>
<rect x="95" y="369.9" width="84" height="24.4" fill="#000" shape-rendering="geometricPrecision"/>
<rect x="96.9" y="371.9" width="3.5" height="5.1" fill="#fff" shape-rendering="geometricPrecision"/>
<rect x="96.9" y="386.9" width="3.5" height="5" fill="#fff" shape-rendering="geometricPrecision"/>
<rect x="102.8" y="371.9" width="3.5" height="5.1" fill="#fff" shape-rendering="geometricPrecision"/>
<rect x="102.8" y="386.9" width="3.5" height="5" fill="#fff" shape-rendering="geometricPrecision"/>
<rect x="108.7" y="371.9" width="3.5" height="5.1" fill="#fff" shape-rendering="geometricPrecision"/>
<rect x="108.7" y="386.9" width="3.5" height="5" fill="#fff" shape-rendering="geometricPrecision"/>
<rect x="114.6" y="371.9" width="3.5" height="5.1" fill="#fff" shape-rendering="geometricPrecision"/>
<rect x="114.6" y="386.9" width="3.5" height="5" fill="#fff" shape-rendering="geometricPrecision"/>
<rect x="120.5" y="371.9" width="3.5" height="5.1" fill="#fff" shape-rendering="geometricPrecision"/>
<rect x="120.5" y="386.9" width="3.5" height="5" fill="#fff" shape-rendering="geometricPrecision"/>
<rect x="126.4" y="371.9" width="3.5" height="5.1" fill="#fff" shape-rendering="geometricPrecision"/>
<rect x="126.4" y="386.9" width="3.5" height="5" fill="#fff" shape-rendering="geometricPrecision"/>
<rect x="132.3" y="371.9" width="3.5" height="5.1" fill="#fff" shape-rendering="geometricPrecision"/>
<rect x="132.3" y="386.9" width="3.5" height="5" fill="#fff" shape-rendering="geometricPrecision"/>
<rect x="138.2" y="371.9" width="3.5" height="5.1" fill="#fff" shape-rendering="geometricPrecision"/>
<rect x="138.2" y="386.9" width="3.5" height="5" fill="#fff" shape-rendering="geometricPrecision"/>
<rect x="144.1" y="371.9" width="3.5" height="5.1" fill="#fff" shape-rendering="geometricPrecision"/>
<rect x="144.1" y="386.9" width="3.5" height="5" fill="#fff" shape-rendering="geometricPrecision"/>
<rect x="150" y="371.9" width="3.5" height="5.1" fill="#fff" shape-rendering="geometricPrecision"/>
<rect x="150" y="386.9" width="3.5" height="5" fill="#fff" shape-rendering="geometricPrecision"/>
<rect x="155.9" y="371.9" width="3.5" height="5.1" fill="#fff" shape-rendering="geometricPrecision"/>
<rect x="155.9" y="386.9" width="3.5" height="5" fill="#fff" shape-rendering="geometricPrecision"/>
<rect x="161.8" y="371.9" width="3.5" height="5.1" fill="#fff" shape-rendering="geometricPrecision"/>
<rect x="161.8" y="386.9" width="3.5" height="5" fill="#fff" shape-rendering="geometricPrecision"/>
<rect x="167.7" y="371.9" width="3.5" height="5.1" fill="#fff" shape-rendering="geometricPrecision"/>
<rect x="167.7" y="386.9" width="3.5" height="5" fill="#fff" shape-rendering="geometricPrecision"/>
<rect x="173.6" y="371.9" width="3.5" height="5.1" fill="#fff" shape-rendering="geometricPrecision"/>
<rect x="173.6" y="386.9" width="3.5" height="5" fill="#fff" shape-rendering="geometricPrecision"/>
<rect x="102" y="379.1" width="34.1" height="5.1" fill="#fff" shape-rendering="geometricPrecision"/>
<rect x="140.9" y="379.1" width="33.4" height="5.1" fill="#fff" shape-rendering="geometricPrecision"/>
<rect x="95" y="379.3" width="2" height="4.7" fill="#fff" shape-rendering="geometricPrecision"/>
<rect x="95" y="396.2" width="84" height="24.4" fill="#000" shape-rendering="geometricPrecision"/>
<rect x="96.9" y="398.2" width="3.5" height="5.1" fill="#fff" shape-rendering="geometricPrecision"/>
<rect x="96.9" y="413.2" width="3.5" height="5" fill="#fff" shape-rendering="geometricPrecision"/>
<rect x="102.8" y="398.2" width="3.5" height="5.1" fill="#fff" shape-rendering="geometricPrecision"/>
<rect x="102.8" y="413.2" width="3.5" height="5" fill="#fff" shape-rendering="geometricPrecision"/>
<rect x="108.7" y="398.2" width="3.5" height="5.1" fill="#fff" shape-rendering="geometricPrecision"/>
<rect x="108.7" y="413.2" width="3.5" height="5" fill="#fff" shape-rendering="geometricPrecision"/>
<rect x="114.6" y="398.2" width="3.5" height="5.1" fill="#fff" shape-rendering="geometricPrecision"/>
<rect x="114.6" y="413.2" width="3.5" height="5" fill="#fff" shape-rendering="geometricPrecision"/>
<rect x="120.5" y="398.2" width="3.5" height="5.1" fill="#fff" shape-rendering="geometricPrecision"/>
<rect x="120.5" y="413.2" width="3.5" height="5" fill="#fff" shape-rendering="geometricPrecision"/>
<rect x="126.4" y="398.2" width="3.5" height="5.1" fill="#fff" shape-rendering="geometricPrecision"/>
<rect x="126.4" y="413.2" width="3.5" height="5" fill="#fff" shape-rendering="geometricPrecision"/>
<rect x="132.3" y="398.2" width="3.5" height="5.1" fill="#fff" shape-rendering="geometricPrecision"/>
<rect x="132.3" y="413.2" width="3.5" height="5" fill="#fff" shape-rendering="geometricPrecision"/>
<rect x="138.2" y="398.2" width="3.5" height="5.1" fill="#fff" shape-rendering="geometricPrecision"/>
<rect x="138.2" y="413.2" width="3.5" height="5" fill="#fff" shape-rendering="geometricPrecision"/>
<rect x="144.1" y="398.2" width="3.5" height="5.1" fill="#fff" shape-rendering="geometricPrecision"/>
<rect x="144.1" y="413.2" width="3.5" height="5" fill="#fff" shape-rendering="geometricPrecision"/>
<rect x="150" y="398.2" width="3.5" height="5.1" fill="#fff" shape-rendering="geometricPrecision"/>
<rect x="150" y="413.2" width="3.5" height="5" fill="#fff" shape-rendering="geometricPrecision"/>
<rect x="155.9" y="398.2" width="3.5" height="5.1" fill="#fff" shape-rendering="geometricPrecision"/>
<rect x="155.9" y="413.2" width="3.5" height="5" fill="#fff" shape-rendering="geometricPrecision"/>
<rect x="161.8" y="398.2" width="3.5" height="5.1" fill="#fff" shape-rendering="geometricPrecision"/>
<rect x="161.8" y="413.2" width="3.5" height="5" fill="#fff" shape-rendering="geometricPrecision"/>
<rect x="167.7" y="398.2" width="3.5" height="5.1" fill="#fff" shape-rendering="geometricPrecision"/>
<rect x="167.7" y="413.2" width="3.5" height="5" fill="#fff" shape-rendering="geometricPrecision"/>
<rect x="173.6" y="398.2" width="3.5" height="5.1" fill="#fff" shape-rendering="geometricPrecision"/>
<rect x="173.6" y="413.2" width="3.5" height="5" fill="#fff" shape-rendering="geometricPrecision"/>
<rect x="102" y="405.4" width="34.1" height="5.1" fill="#fff" shape-rendering="geometricPrecision"/>
<rect x="140.9" y="405.4" width="33.4" height="5.1" fill="#fff" shape-rendering="geometricPrecision"/>
<rect x="95" y="405.6" width="2" height="4.7" fill="#fff" shape-rendering="geometricPrecision"/>
<rect x="95" y="422.5" width="84" height="24.4" fill="#000" shape-rendering="geometricPrecision"/>
<rect x="96.9" y="424.5" width="3.5" height="5.1" fill="#fff" shape-rendering="geometricPrecision"/>
<rect x="96.9" y="439.5" width="3.5" height="5" fill="#fff" shape-rendering="geometricPrecision"/>
<rect x="102.8" y="424.5" width="3.5" height="5.1" fill="#fff" shape-rendering="geometricPrecision"/>
<rect x="102.8" y="439.5" width="3.5" height="5" fill="#fff" shape-rendering="geometricPrecision"/>
<rect x="108.7" y="424.5" width="3.5" height="5.1" fill="#fff" shape-rendering="geometricPrecision"/>
<rect x="108.7" y="439.5" width="3.5" height="5" fill="#fff" shape-rendering="geometricPrecision"/>
<rect x="114.6" y="424.5" width="3.5" height="5.1" fill="#fff" shape-rendering="geometricPrecision"/>
<rect x="114.6" y="439.5" width="3.5" height="5" fill="#fff" shape-rendering="geometricPrecision"/>
<rect x="120.5" y="424.5" width="3.5" height="5.1" fill="#fff" shape-rendering="geometricPrecision"/>
<rect x="120.5" y="439.5" width="3.5" height="5" fill="#fff" shape-rendering="geometricPrecision"/>
<rect x="126.4" y="424.5" width="3.5" height="5.1" fill="#fff" shape-rendering="geometricPrecision"/>
<rect x="126.4" y="439.5" width="3.5" height="5" fill="#fff" shape-rendering="geometricPrecision"/>
<rect x="132.3" y="424.5" width="3.5" height="5.1" fill="#fff" shape-rendering="geometricPrecision"/>
<rect x="132.3" y="439.5" width="3.5" height="5" fill="#fff" shape-rendering="geometricPrecision"/>
<rect x="138.2" y="424.5" width="3.5" height="5.1" fill="#fff" shape-rendering="geometricPrecision"/>
<rect x="138.2" y="439.5" width="3.5" height="5" fill="#fff" shape-rendering="geometricPrecision"/>
<rect x="144.1" y="424.5" width="3.5" height="5.1" fill="#fff" shape-rendering="geometricPrecision"/>
<rect x="144.1" y="439.5" width="3.5" height="5" fill="#fff" shape-rendering="geometricPrecision"/>
<rect x="150" y="424.5" width="3.5" height="5.1" fill="#fff" shape-rendering="geometricPrecision"/>
<rect x="150" y="439.5" width="3.5" height="5" fill="#fff" shape-rendering="geometricPrecision"/>
<rect x="155.9" y="424.5" width="3.5" height="5.1" fill="#fff" shape-rendering="geometricPrecision"/>
<rect x="155.9" y="439.5" width="3.5" height="5" fill="#fff" shape-rendering="geometricPrecision"/>
<rect x="161.8" y="424.5" width="3.5" height="5.1" fill="#fff" shape-rendering="geometricPrecision"/>
<rect x="161.8" y="439.5" width="3.5" height="5" fill="#fff" shape-rendering="geometricPrecision"/>
<rect x="167.7" y="424.5" width="3.5" height="5.1" fill="#fff" shape-rendering="geometricPrecision"/>
<rect x="167.7" y="439.5" width="3.5" height="5" fill="#fff" shape-rendering="geometricPrecision"/>
<rect x="173.6" y="424.5" width="3.5" height="5.1" fill="#fff" shape-rendering="geometricPrecision"/>
<rect x="173.6" y="439.5" width="3.5" height="5" fill="#fff" shape-rendering="geometricPrecision"/>
<rect x="102" y="431.7" width="34.1" height="5.1" fill="#fff" shape-rendering="geometricPrecision"/>
<rect x="140.9" y="431.7" width="33.4" height="5.1" fill="#fff" shape-rendering="geometricPrecision"/>
<rect x="95" y="431.9" width="2" height="4.7" fill="#fff" shape-rendering="geometricPrecision"/>
<rect x="95" y="448.8" width="84" height="24.4" fill="#000" shape-rendering="geometricPrecision"/>
<rect x="96.9" y="450.8" width="3.5" height="5.1" fill="#fff" shape-rendering="geometricPrecision"/>
<rect x="96.9" y="465.8" width="3.5" height="5" fill="#fff" shape-rendering="geometricPrecision"/>
<rect x="102.8" y="450.8" width="3.5" height="5.1" fill="#fff" shape-rendering="geometricPrecision"/>
<rect x="102.8" y="465.8" width="3.5" height="5" fill="#fff" shape-rendering="geometricPrecision"/>
<rect x="108.7" y="450.8" width="3.5" height="5.1" fill="#fff" shape-rendering="geometricPrecision"/>
<rect x="108.7" y="465.8" width="3.5" height="5" fill="#fff" shape-rendering="geometricPrecision"/>
<rect x="114.6" y="450.8" width="3.5" height="5.1" fill="#fff" shape-rendering="geometricPrecision"/>
<rect x="114.6" y="465.8" width="3.5" height="5" fill="#fff" shape-rendering="geometricPrecision"/>
<rect x="120.5" y="450.8" width="3.5" height="5.1" fill="#fff" shape-rendering="geometricPrecision"/>
<rect x="120.5" y="465.8" width="3.5" height="5" fill="#fff" shape-rendering="geometricPrecision"/>
<rect x="126.4" y="450.8" width="3.5" height="5.1" fill="#fff" shape-rendering="geometricPrecision"/>
<rect x="126.4" y="465.8" width="3.5" height="5" fill="#fff" shape-rendering="geometricPrecision"/>
<rect x="132.3" y="450.8" width="3.5" height="5.1" fill="#fff" shape-rendering="geometricPrecision"/>
<rect x="132.3" y="465.8" width="3.5" height="5" fill="#fff" shape-rendering="geometricPrecision"/>
<rect x="138.2" y="450.8" width="3.5" height="5.1" fill="#fff" shape-rendering="geometricPrecision"/>
<rect x="138.2" y="465.8" width="3.5" height="5" fill="#fff" shape-rendering="geometricPrecision"/>
<rect x="144.1" y="450.8" width="3.5" height="5.1" fill="#fff" shape-rendering="geometricPrecision"/>
<rect x="144.1" y="465.8" width="3.5" height="5" fill="#fff" shape-rendering="geometricPrecision"/>
<rect x="150" y="450.8" width="3.5" height="5.1" fill="#fff" shape-rendering="geometricPrecision"/>
<rect x="150" y="465.8" width="3.5" height="5" fill="#fff" shape-rendering="geometricPrecision"/>
<rect x="155.9" y="450.8" width="3.5" height="5.1" fill="#fff" shape-rendering="geometricPrecision"/>
<rect x="155.9" y="465.8" width="3.5" height="5" fill="#fff" shape-rendering="geometricPrecision"/>
<rect x="161.8" y="450.8" width="3.5" height="5.1" fill="#fff" shape-rendering="geometricPrecision"/>
<rect x="161.8" y="465.8" width="3.5" height="5" fill="#fff" shape-rendering="geometricPrecision"/>
<rect x="167.7" y="450.8" width="3.5" height="5.1" fill="#fff" shape-rendering="geometricPrecision"/>
<rect x="167.7" y="465.8" width="3.5" height="5" fill="#fff" shape-rendering="geometricPrecision"/>
<rect x="173.6" y="450.8" width="3.5" height="5.1" fill="#fff" shape-rendering="geometricPrecision"/>
<rect x="173.6" y="465.8" width="3.5" height="5" fill="#fff" shape-rendering="geometricPrecision"/>
<rect x="102" y="458" width="34.1" height="5.1" fill="#fff" shape-rendering="geometricPrecision"/>
<rect x="140.9" y="458" width="33.4" height="5.1" fill="#fff" shape-rendering="geometricPrecision"/>
<rect x="95" y="458.2" width="2" height="4.7" fill="#fff" shape-rendering="geometricPrecision"/>
<rect x="95" y="475.1" width="84" height="24.4" fill="#000" shape-rendering="geometricPrecision"/>
<rect x="96.9" y="477.1" width="3.5" height="5.1" fill="#fff" shape-rendering="geometricPrecision"/>
<rect x="96.9" y="492.1" width="3.5" height="5" fill="#fff" shape-rendering="geometricPrecision"/>
<rect x="102.8" y="477.1" width="3.5" height="5.1" fill="#fff" shape-rendering="geometricPrecision"/>
<rect x="102.8" y="492.1" width="3.5" height="5" fill="#fff" shape-rendering="geometricPrecision"/>
<rect x="108.7" y="477.1" width="3.5" height="5.1" fill="#fff" shape-rendering="geometricPrecision"/>
<rect x="108.7" y="492.1" width="3.5" height="5" fill="#fff" shape-rendering="geometricPrecision"/>
<rect x="114.6" y="477.1" width="3.5" height="5.1" fill="#fff" shape-rendering="geometricPrecision"/>
<rect x="114.6" y="492.1" width="3.5" height="5" fill="#fff" shape-rendering="geometricPrecision"/>
<rect x="120.5" y="477.1" width="3.5" height="5.1" fill="#fff" shape-rendering="geometricPrecision"/>
<rect x="120.5" y="492.1" width="3.5" height="5" fill="#fff" shape-rendering="geometricPrecision"/>
<rect x="126.4" y="477.1" width="3.5" height="5.1" fill="#fff" shape-rendering="geometricPrecision"/>
<rect x="126.4" y="492.1" width="3.5" height="5" fill="#fff" shape-rendering="geometricPrecision"/>
<rect x="132.3" y="477.1" width="3.5" height="5.1" fill="#fff" shape-rendering="geometricPrecision"/>
<rect x="132.3" y="492.1" width="3.5" height="5" fill="#fff" shape-rendering="geometricPrecision"/>
<rect x="138.2" y="477.1" width="3.5" height="5.1" fill="#fff" shape-rendering="geometricPrecision"/>
<rect x="138.2" y="492.1" width="3.5" height="5" fill="#fff" shape-rendering="geometricPrecision"/>
<rect x="144.1" y="477.1" width="3.5" height="5.1" fill="#fff" shape-rendering="geometricPrecision"/>
<rect x="144.1" y="492.1" width="3.5" height="5" fill="#fff" shape-rendering="geometricPrecision"/>
<rect x="150" y="477.1" width="3.5" height="5.1" fill="#fff" shape-rendering="geometricPrecision"/>
<rect x="150" y="492.1" width="3.5" height="5" fill="#fff" shape-rendering="geometricPrecision"/>
<rect x="155.9" y="477.1" width="3.5" height="5.1" fill="#fff" shape-rendering="geometricPrecision"/>
<rect x="155.9" y="492.1" width="3.5" height="5" fill="#fff" shape-rendering="geometricPrecision"/>
<rect x="161.8" y="477.1" width="3.5" height="5.1" fill="#fff" shape-rendering="geometricPrecision"/>
<rect x="161.8" y="492.1" width="3.5" height="5" fill="#fff" shape-rendering="geometricPrecision"/>
<rect x="167.7" y="477.1" width="3.5" height="5.1" fill="#fff" shape-rendering="geometricPrecision"/>
<rect x="167.7" y="492.1" width="3.5" height="5" fill="#fff" shape-rendering="geometricPrecision"/>
<rect x="173.6" y="477.1" width="3.5" height="5.1" fill="#fff" shape-rendering="geometricPrecision"/>
<rect x="173.6" y="492.1" width="3.5" height="5" fill="#fff" shape-rendering="geometricPrecision"/>
<rect x="102" y="484.3" width="34.1" height="5.1" fill="#fff" shape-rendering="geometricPrecision"/>
<rect x="140.9" y="484.3" width="33.4" height="5.1" fill="#fff" shape-rendering="geometricPrecision"/>
<rect x="95" y="484.5" width="2" height="4.7" fill="#fff" shape-rendering="geometricPrecision"/>
<rect x="127.4" y="355.4" width="18.4" height="76.4" fill="#000" rx="3" shape-rendering="geometricPrecision"/>
<rect x="131" y="357.2" width="11.5" height="72.8" fill="#fff" rx="2" shape-rendering="geometricPrecision"/>
<text x="0" y="370.3" font-size="13" text-anchor="middle" font-weight="normal" fill="#000" transform="translate(136 0) scale(0.8 1)">B</text>
<text x="0" y="384.8" font-size="13" text-anchor="middle" font-weight="normal" fill="#000" transform="translate(136 0) scale(0.8 1)">A</text>
<text x="0" y="399.6" font-size="13" text-anchor="middle" font-weight="normal" fill="#000" transform="translate(136 0) scale(0.8 1)">N</text>
<text x="0" y="413.8" font-size="13" text-anchor="middle" font-weight="normal" fill="#000" transform="translate(136 0) scale(0.8 1)">K</text>
<text x="0" y="428.2" font-size="13" text-anchor="middle" font-weight="normal" fill="#000" transform="translate(136 0) scale(0.8 1)">0</text>
<polyline points="176,288.6 185.5,293.4" fill="none" stroke="#000" stroke-width="1.2" shape-rendering="geometricPrecision"/>
<rect x="185" y="293" width="1" height="89" fill="#000"/>
<polyline points="185.5,381.5 192,388" fill="none" stroke="#000" stroke-width="1.2" shape-rendering="geometricPrecision"/>
<polyline points="192,394 185.5,398.5" fill="none" stroke="#000" stroke-width="1.2" shape-rendering="geometricPrecision"/>
<rect x="185" y="398" width="1" height="98.6" fill="#000"/>
<polyline points="185.5,496 178.3,503.2" fill="none" stroke="#000" stroke-width="1.2" shape-rendering="geometricPrecision"/>
<rect x="191.6" y="381.4" width="50.8" height="18.5" fill="#000" rx="3.6" shape-rendering="geometricPrecision"/>
<rect x="193.2" y="383" width="47" height="14.7" fill="#fff" rx="2.2" shape-rendering="geometricPrecision"/>
<text x="0" y="394.25" font-size="13.6" text-anchor="middle" font-weight="normal" fill="#000" letter-spacing="1" transform="translate(217.11 0) scale(0.82 1)">CACHE</text>
<rect x="468" y="360" width="278" height="16" fill="#000"/>
<rect x="469" y="361" width="276" height="14" fill="#fff"/>
<rect x="468" y="364" width="8" height="1" fill="#000"/>
<rect x="468" y="369" width="8" height="1" fill="#000"/>
<rect x="738" y="364" width="8" height="1" fill="#000"/>
<rect x="738" y="369" width="8" height="1" fill="#000"/>
<rect x="476" y="362" width="4" height="13" fill="#000"/>
<rect x="734" y="362" width="4" height="13" fill="#000"/>
<rect x="480" y="363" width="10" height="1" fill="#000"/>
<rect x="489" y="363" width="1" height="8" fill="#000"/>
<rect x="482" y="370" width="8" height="1" fill="#000"/>
<rect x="486" y="370" width="1" height="5" fill="#000"/>
<rect x="483" y="370" width="1" height="3" fill="#000"/>
<rect x="480" y="372" width="4" height="1" fill="#000"/>
<rect x="724" y="363" width="10" height="1" fill="#000"/>
<rect x="724" y="363" width="1" height="8" fill="#000"/>
<rect x="724" y="370" width="8" height="1" fill="#000"/>
<rect x="727" y="370" width="1" height="5" fill="#000"/>
<rect x="730" y="370" width="1" height="3" fill="#000"/>
<rect x="730" y="372" width="4" height="1" fill="#000"/>
<rect x="491" y="363" width="231" height="11" fill="#000"/>
<rect x="492.2" y="364" width="1" height="5" fill="#fff" shape-rendering="geometricPrecision"/>
<rect x="494.8" y="364" width="1" height="5" fill="#fff" shape-rendering="geometricPrecision"/>
<rect x="497.4" y="364" width="1" height="5" fill="#fff" shape-rendering="geometricPrecision"/>
<rect x="500" y="364" width="1" height="5" fill="#fff" shape-rendering="geometricPrecision"/>
<rect x="502.6" y="364" width="1" height="5" fill="#fff" shape-rendering="geometricPrecision"/>
<rect x="505.2" y="364" width="1" height="5" fill="#fff" shape-rendering="geometricPrecision"/>
<rect x="507.8" y="364" width="1" height="5" fill="#fff" shape-rendering="geometricPrecision"/>
<rect x="510.4" y="364" width="1" height="5" fill="#fff" shape-rendering="geometricPrecision"/>
<rect x="513" y="364" width="1" height="5" fill="#fff" shape-rendering="geometricPrecision"/>
<rect x="518.2" y="364" width="1" height="5" fill="#fff" shape-rendering="geometricPrecision"/>
<rect x="520.8" y="364" width="1" height="5" fill="#fff" shape-rendering="geometricPrecision"/>
<rect x="523.4" y="364" width="1" height="5" fill="#fff" shape-rendering="geometricPrecision"/>
<rect x="526" y="364" width="1" height="5" fill="#fff" shape-rendering="geometricPrecision"/>
<rect x="528.6" y="364" width="1" height="5" fill="#fff" shape-rendering="geometricPrecision"/>
<rect x="531.2" y="364" width="1" height="5" fill="#fff" shape-rendering="geometricPrecision"/>
<rect x="533.8" y="364" width="1" height="5" fill="#fff" shape-rendering="geometricPrecision"/>
<rect x="536.4" y="364" width="1" height="5" fill="#fff" shape-rendering="geometricPrecision"/>
<rect x="539" y="364" width="1" height="5" fill="#fff" shape-rendering="geometricPrecision"/>
<rect x="541.6" y="364" width="1" height="5" fill="#fff" shape-rendering="geometricPrecision"/>
<rect x="544.2" y="364" width="1" height="5" fill="#fff" shape-rendering="geometricPrecision"/>
<rect x="546.8" y="364" width="1" height="5" fill="#fff" shape-rendering="geometricPrecision"/>
<rect x="549.4" y="364" width="1" height="5" fill="#fff" shape-rendering="geometricPrecision"/>
<rect x="552" y="364" width="1" height="5" fill="#fff" shape-rendering="geometricPrecision"/>
<rect x="554.6" y="364" width="1" height="5" fill="#fff" shape-rendering="geometricPrecision"/>
<rect x="557.2" y="364" width="1" height="5" fill="#fff" shape-rendering="geometricPrecision"/>
<rect x="559.8" y="364" width="1" height="5" fill="#fff" shape-rendering="geometricPrecision"/>
<rect x="562.4" y="364" width="1" height="5" fill="#fff" shape-rendering="geometricPrecision"/>
<rect x="565" y="364" width="1" height="5" fill="#fff" shape-rendering="geometricPrecision"/>
<rect x="567.6" y="364" width="1" height="5" fill="#fff" shape-rendering="geometricPrecision"/>
<rect x="570.2" y="364" width="1" height="5" fill="#fff" shape-rendering="geometricPrecision"/>
<rect x="572.8" y="364" width="1" height="5" fill="#fff" shape-rendering="geometricPrecision"/>
<rect x="575.4" y="364" width="1" height="5" fill="#fff" shape-rendering="geometricPrecision"/>
<rect x="578" y="364" width="1" height="5" fill="#fff" shape-rendering="geometricPrecision"/>
<rect x="580.6" y="364" width="1" height="5" fill="#fff" shape-rendering="geometricPrecision"/>
<rect x="583.2" y="364" width="1" height="5" fill="#fff" shape-rendering="geometricPrecision"/>
<rect x="585.8" y="364" width="1" height="5" fill="#fff" shape-rendering="geometricPrecision"/>
<rect x="588.4" y="364" width="1" height="5" fill="#fff" shape-rendering="geometricPrecision"/>
<rect x="591" y="364" width="1" height="5" fill="#fff" shape-rendering="geometricPrecision"/>
<rect x="593.6" y="364" width="1" height="5" fill="#fff" shape-rendering="geometricPrecision"/>
<rect x="596.2" y="364" width="1" height="5" fill="#fff" shape-rendering="geometricPrecision"/>
<rect x="598.8" y="364" width="1" height="5" fill="#fff" shape-rendering="geometricPrecision"/>
<rect x="601.4" y="364" width="1" height="5" fill="#fff" shape-rendering="geometricPrecision"/>
<rect x="604" y="364" width="1" height="5" fill="#fff" shape-rendering="geometricPrecision"/>
<rect x="606.6" y="364" width="1" height="5" fill="#fff" shape-rendering="geometricPrecision"/>
<rect x="609.2" y="364" width="1" height="5" fill="#fff" shape-rendering="geometricPrecision"/>
<rect x="611.8" y="364" width="1" height="5" fill="#fff" shape-rendering="geometricPrecision"/>
<rect x="614.4" y="364" width="1" height="5" fill="#fff" shape-rendering="geometricPrecision"/>
<rect x="617" y="364" width="1" height="5" fill="#fff" shape-rendering="geometricPrecision"/>
<rect x="619.6" y="364" width="1" height="5" fill="#fff" shape-rendering="geometricPrecision"/>
<rect x="622.2" y="364" width="1" height="5" fill="#fff" shape-rendering="geometricPrecision"/>
<rect x="624.8" y="364" width="1" height="5" fill="#fff" shape-rendering="geometricPrecision"/>
<rect x="627.4" y="364" width="1" height="5" fill="#fff" shape-rendering="geometricPrecision"/>
<rect x="630" y="364" width="1" height="5" fill="#fff" shape-rendering="geometricPrecision"/>
<rect x="632.6" y="364" width="1" height="5" fill="#fff" shape-rendering="geometricPrecision"/>
<rect x="635.2" y="364" width="1" height="5" fill="#fff" shape-rendering="geometricPrecision"/>
<rect x="637.8" y="364" width="1" height="5" fill="#fff" shape-rendering="geometricPrecision"/>
<rect x="640.4" y="364" width="1" height="5" fill="#fff" shape-rendering="geometricPrecision"/>
<rect x="643" y="364" width="1" height="5" fill="#fff" shape-rendering="geometricPrecision"/>
<rect x="645.6" y="364" width="1" height="5" fill="#fff" shape-rendering="geometricPrecision"/>
<rect x="648.2" y="364" width="1" height="5" fill="#fff" shape-rendering="geometricPrecision"/>
<rect x="650.8" y="364" width="1" height="5" fill="#fff" shape-rendering="geometricPrecision"/>
<rect x="653.4" y="364" width="1" height="5" fill="#fff" shape-rendering="geometricPrecision"/>
<rect x="656" y="364" width="1" height="5" fill="#fff" shape-rendering="geometricPrecision"/>
<rect x="658.6" y="364" width="1" height="5" fill="#fff" shape-rendering="geometricPrecision"/>
<rect x="661.2" y="364" width="1" height="5" fill="#fff" shape-rendering="geometricPrecision"/>
<rect x="663.8" y="364" width="1" height="5" fill="#fff" shape-rendering="geometricPrecision"/>
<rect x="666.4" y="364" width="1" height="5" fill="#fff" shape-rendering="geometricPrecision"/>
<rect x="669" y="364" width="1" height="5" fill="#fff" shape-rendering="geometricPrecision"/>
<rect x="671.6" y="364" width="1" height="5" fill="#fff" shape-rendering="geometricPrecision"/>
<rect x="674.2" y="364" width="1" height="5" fill="#fff" shape-rendering="geometricPrecision"/>
<rect x="676.8" y="364" width="1" height="5" fill="#fff" shape-rendering="geometricPrecision"/>
<rect x="679.4" y="364" width="1" height="5" fill="#fff" shape-rendering="geometricPrecision"/>
<rect x="682" y="364" width="1" height="5" fill="#fff" shape-rendering="geometricPrecision"/>
<rect x="684.6" y="364" width="1" height="5" fill="#fff" shape-rendering="geometricPrecision"/>
<rect x="687.2" y="364" width="1" height="5" fill="#fff" shape-rendering="geometricPrecision"/>
<rect x="689.8" y="364" width="1" height="5" fill="#fff" shape-rendering="geometricPrecision"/>
<rect x="692.4" y="364" width="1" height="5" fill="#fff" shape-rendering="geometricPrecision"/>
<rect x="695" y="364" width="1" height="5" fill="#fff" shape-rendering="geometricPrecision"/>
<rect x="697.6" y="364" width="1" height="5" fill="#fff" shape-rendering="geometricPrecision"/>
<rect x="700.2" y="364" width="1" height="5" fill="#fff" shape-rendering="geometricPrecision"/>
<rect x="702.8" y="364" width="1" height="5" fill="#fff" shape-rendering="geometricPrecision"/>
<rect x="705.4" y="364" width="1" height="5" fill="#fff" shape-rendering="geometricPrecision"/>
<rect x="708" y="364" width="1" height="5" fill="#fff" shape-rendering="geometricPrecision"/>
<rect x="710.6" y="364" width="1" height="5" fill="#fff" shape-rendering="geometricPrecision"/>
<rect x="713.2" y="364" width="1" height="5" fill="#fff" shape-rendering="geometricPrecision"/>
<rect x="715.8" y="364" width="1" height="5" fill="#fff" shape-rendering="geometricPrecision"/>
<rect x="718.4" y="364" width="1" height="5" fill="#fff" shape-rendering="geometricPrecision"/>
<rect x="602" y="361" width="9" height="6" fill="#fff"/>
<rect x="468" y="377" width="278" height="16" fill="#000"/>
<rect x="469" y="378" width="276" height="14" fill="#fff"/>
<rect x="468" y="381" width="8" height="1" fill="#000"/>
<rect x="468" y="386" width="8" height="1" fill="#000"/>
<rect x="738" y="381" width="8" height="1" fill="#000"/>
<rect x="738" y="386" width="8" height="1" fill="#000"/>
<rect x="476" y="379" width="4" height="13" fill="#000"/>
<rect x="734" y="379" width="4" height="13" fill="#000"/>
<rect x="480" y="380" width="10" height="1" fill="#000"/>
<rect x="489" y="380" width="1" height="8" fill="#000"/>
<rect x="482" y="387" width="8" height="1" fill="#000"/>
<rect x="486" y="387" width="1" height="5" fill="#000"/>
<rect x="483" y="387" width="1" height="3" fill="#000"/>
<rect x="480" y="389" width="4" height="1" fill="#000"/>
<rect x="724" y="380" width="10" height="1" fill="#000"/>
<rect x="724" y="380" width="1" height="8" fill="#000"/>
<rect x="724" y="387" width="8" height="1" fill="#000"/>
<rect x="727" y="387" width="1" height="5" fill="#000"/>
<rect x="730" y="387" width="1" height="3" fill="#000"/>
<rect x="730" y="389" width="4" height="1" fill="#000"/>
<rect x="491" y="380" width="231" height="11" fill="#000"/>
<rect x="492.2" y="381" width="1" height="5" fill="#fff" shape-rendering="geometricPrecision"/>
<rect x="494.8" y="381" width="1" height="5" fill="#fff" shape-rendering="geometricPrecision"/>
<rect x="497.4" y="381" width="1" height="5" fill="#fff" shape-rendering="geometricPrecision"/>
<rect x="500" y="381" width="1" height="5" fill="#fff" shape-rendering="geometricPrecision"/>
<rect x="502.6" y="381" width="1" height="5" fill="#fff" shape-rendering="geometricPrecision"/>
<rect x="505.2" y="381" width="1" height="5" fill="#fff" shape-rendering="geometricPrecision"/>
<rect x="507.8" y="381" width="1" height="5" fill="#fff" shape-rendering="geometricPrecision"/>
<rect x="510.4" y="381" width="1" height="5" fill="#fff" shape-rendering="geometricPrecision"/>
<rect x="513" y="381" width="1" height="5" fill="#fff" shape-rendering="geometricPrecision"/>
<rect x="518.2" y="381" width="1" height="5" fill="#fff" shape-rendering="geometricPrecision"/>
<rect x="520.8" y="381" width="1" height="5" fill="#fff" shape-rendering="geometricPrecision"/>
<rect x="523.4" y="381" width="1" height="5" fill="#fff" shape-rendering="geometricPrecision"/>
<rect x="526" y="381" width="1" height="5" fill="#fff" shape-rendering="geometricPrecision"/>
<rect x="528.6" y="381" width="1" height="5" fill="#fff" shape-rendering="geometricPrecision"/>
<rect x="531.2" y="381" width="1" height="5" fill="#fff" shape-rendering="geometricPrecision"/>
<rect x="533.8" y="381" width="1" height="5" fill="#fff" shape-rendering="geometricPrecision"/>
<rect x="536.4" y="381" width="1" height="5" fill="#fff" shape-rendering="geometricPrecision"/>
<rect x="539" y="381" width="1" height="5" fill="#fff" shape-rendering="geometricPrecision"/>
<rect x="541.6" y="381" width="1" height="5" fill="#fff" shape-rendering="geometricPrecision"/>
<rect x="544.2" y="381" width="1" height="5" fill="#fff" shape-rendering="geometricPrecision"/>
<rect x="546.8" y="381" width="1" height="5" fill="#fff" shape-rendering="geometricPrecision"/>
<rect x="549.4" y="381" width="1" height="5" fill="#fff" shape-rendering="geometricPrecision"/>
<rect x="552" y="381" width="1" height="5" fill="#fff" shape-rendering="geometricPrecision"/>
<rect x="554.6" y="381" width="1" height="5" fill="#fff" shape-rendering="geometricPrecision"/>
<rect x="557.2" y="381" width="1" height="5" fill="#fff" shape-rendering="geometricPrecision"/>
<rect x="559.8" y="381" width="1" height="5" fill="#fff" shape-rendering="geometricPrecision"/>
<rect x="562.4" y="381" width="1" height="5" fill="#fff" shape-rendering="geometricPrecision"/>
<rect x="565" y="381" width="1" height="5" fill="#fff" shape-rendering="geometricPrecision"/>
<rect x="567.6" y="381" width="1" height="5" fill="#fff" shape-rendering="geometricPrecision"/>
<rect x="570.2" y="381" width="1" height="5" fill="#fff" shape-rendering="geometricPrecision"/>
<rect x="572.8" y="381" width="1" height="5" fill="#fff" shape-rendering="geometricPrecision"/>
<rect x="575.4" y="381" width="1" height="5" fill="#fff" shape-rendering="geometricPrecision"/>
<rect x="578" y="381" width="1" height="5" fill="#fff" shape-rendering="geometricPrecision"/>
<rect x="580.6" y="381" width="1" height="5" fill="#fff" shape-rendering="geometricPrecision"/>
<rect x="583.2" y="381" width="1" height="5" fill="#fff" shape-rendering="geometricPrecision"/>
<rect x="585.8" y="381" width="1" height="5" fill="#fff" shape-rendering="geometricPrecision"/>
<rect x="588.4" y="381" width="1" height="5" fill="#fff" shape-rendering="geometricPrecision"/>
<rect x="591" y="381" width="1" height="5" fill="#fff" shape-rendering="geometricPrecision"/>
<rect x="593.6" y="381" width="1" height="5" fill="#fff" shape-rendering="geometricPrecision"/>
<rect x="596.2" y="381" width="1" height="5" fill="#fff" shape-rendering="geometricPrecision"/>
<rect x="598.8" y="381" width="1" height="5" fill="#fff" shape-rendering="geometricPrecision"/>
<rect x="601.4" y="381" width="1" height="5" fill="#fff" shape-rendering="geometricPrecision"/>
<rect x="604" y="381" width="1" height="5" fill="#fff" shape-rendering="geometricPrecision"/>
<rect x="606.6" y="381" width="1" height="5" fill="#fff" shape-rendering="geometricPrecision"/>
<rect x="609.2" y="381" width="1" height="5" fill="#fff" shape-rendering="geometricPrecision"/>
<rect x="611.8" y="381" width="1" height="5" fill="#fff" shape-rendering="geometricPrecision"/>
<rect x="614.4" y="381" width="1" height="5" fill="#fff" shape-rendering="geometricPrecision"/>
<rect x="617" y="381" width="1" height="5" fill="#fff" shape-rendering="geometricPrecision"/>
<rect x="619.6" y="381" width="1" height="5" fill="#fff" shape-rendering="geometricPrecision"/>
<rect x="622.2" y="381" width="1" height="5" fill="#fff" shape-rendering="geometricPrecision"/>
<rect x="624.8" y="381" width="1" height="5" fill="#fff" shape-rendering="geometricPrecision"/>
<rect x="627.4" y="381" width="1" height="5" fill="#fff" shape-rendering="geometricPrecision"/>
<rect x="630" y="381" width="1" height="5" fill="#fff" shape-rendering="geometricPrecision"/>
<rect x="632.6" y="381" width="1" height="5" fill="#fff" shape-rendering="geometricPrecision"/>
<rect x="635.2" y="381" width="1" height="5" fill="#fff" shape-rendering="geometricPrecision"/>
<rect x="637.8" y="381" width="1" height="5" fill="#fff" shape-rendering="geometricPrecision"/>
<rect x="640.4" y="381" width="1" height="5" fill="#fff" shape-rendering="geometricPrecision"/>
<rect x="643" y="381" width="1" height="5" fill="#fff" shape-rendering="geometricPrecision"/>
<rect x="645.6" y="381" width="1" height="5" fill="#fff" shape-rendering="geometricPrecision"/>
<rect x="648.2" y="381" width="1" height="5" fill="#fff" shape-rendering="geometricPrecision"/>
<rect x="650.8" y="381" width="1" height="5" fill="#fff" shape-rendering="geometricPrecision"/>
<rect x="653.4" y="381" width="1" height="5" fill="#fff" shape-rendering="geometricPrecision"/>
<rect x="656" y="381" width="1" height="5" fill="#fff" shape-rendering="geometricPrecision"/>
<rect x="658.6" y="381" width="1" height="5" fill="#fff" shape-rendering="geometricPrecision"/>
<rect x="661.2" y="381" width="1" height="5" fill="#fff" shape-rendering="geometricPrecision"/>
<rect x="663.8" y="381" width="1" height="5" fill="#fff" shape-rendering="geometricPrecision"/>
<rect x="666.4" y="381" width="1" height="5" fill="#fff" shape-rendering="geometricPrecision"/>
<rect x="669" y="381" width="1" height="5" fill="#fff" shape-rendering="geometricPrecision"/>
<rect x="671.6" y="381" width="1" height="5" fill="#fff" shape-rendering="geometricPrecision"/>
<rect x="674.2" y="381" width="1" height="5" fill="#fff" shape-rendering="geometricPrecision"/>
<rect x="676.8" y="381" width="1" height="5" fill="#fff" shape-rendering="geometricPrecision"/>
<rect x="679.4" y="381" width="1" height="5" fill="#fff" shape-rendering="geometricPrecision"/>
<rect x="682" y="381" width="1" height="5" fill="#fff" shape-rendering="geometricPrecision"/>
<rect x="684.6" y="381" width="1" height="5" fill="#fff" shape-rendering="geometricPrecision"/>
<rect x="687.2" y="381" width="1" height="5" fill="#fff" shape-rendering="geometricPrecision"/>
<rect x="689.8" y="381" width="1" height="5" fill="#fff" shape-rendering="geometricPrecision"/>
<rect x="692.4" y="381" width="1" height="5" fill="#fff" shape-rendering="geometricPrecision"/>
<rect x="695" y="381" width="1" height="5" fill="#fff" shape-rendering="geometricPrecision"/>
<rect x="697.6" y="381" width="1" height="5" fill="#fff" shape-rendering="geometricPrecision"/>
<rect x="700.2" y="381" width="1" height="5" fill="#fff" shape-rendering="geometricPrecision"/>
<rect x="702.8" y="381" width="1" height="5" fill="#fff" shape-rendering="geometricPrecision"/>
<rect x="705.4" y="381" width="1" height="5" fill="#fff" shape-rendering="geometricPrecision"/>
<rect x="708" y="381" width="1" height="5" fill="#fff" shape-rendering="geometricPrecision"/>
<rect x="710.6" y="381" width="1" height="5" fill="#fff" shape-rendering="geometricPrecision"/>
<rect x="713.2" y="381" width="1" height="5" fill="#fff" shape-rendering="geometricPrecision"/>
<rect x="715.8" y="381" width="1" height="5" fill="#fff" shape-rendering="geometricPrecision"/>
<rect x="718.4" y="381" width="1" height="5" fill="#fff" shape-rendering="geometricPrecision"/>
<rect x="602" y="387" width="9" height="5" fill="#fff"/>
<rect x="468" y="400" width="278" height="15" fill="#000"/>
<rect x="469" y="401" width="276" height="13" fill="#fff"/>
<rect x="468" y="403" width="8" height="1" fill="#000"/>
<rect x="468" y="408" width="8" height="1" fill="#000"/>
<rect x="738" y="403" width="8" height="1" fill="#000"/>
<rect x="738" y="408" width="8" height="1" fill="#000"/>
<rect x="476" y="401" width="4" height="13" fill="#000"/>
<rect x="734" y="401" width="4" height="13" fill="#000"/>
<rect x="480" y="402" width="10" height="1" fill="#000"/>
<rect x="489" y="402" width="1" height="8" fill="#000"/>
<rect x="482" y="409" width="8" height="1" fill="#000"/>
<rect x="486" y="409" width="1" height="5" fill="#000"/>
<rect x="483" y="409" width="1" height="3" fill="#000"/>
<rect x="480" y="411" width="4" height="1" fill="#000"/>
<rect x="724" y="402" width="10" height="1" fill="#000"/>
<rect x="724" y="402" width="1" height="8" fill="#000"/>
<rect x="724" y="409" width="8" height="1" fill="#000"/>
<rect x="727" y="409" width="1" height="5" fill="#000"/>
<rect x="730" y="409" width="1" height="3" fill="#000"/>
<rect x="730" y="411" width="4" height="1" fill="#000"/>
<rect x="491" y="402" width="231" height="11" fill="#000"/>
<rect x="492.2" y="403" width="1" height="5" fill="#fff" shape-rendering="geometricPrecision"/>
<rect x="494.8" y="403" width="1" height="5" fill="#fff" shape-rendering="geometricPrecision"/>
<rect x="497.4" y="403" width="1" height="5" fill="#fff" shape-rendering="geometricPrecision"/>
<rect x="500" y="403" width="1" height="5" fill="#fff" shape-rendering="geometricPrecision"/>
<rect x="502.6" y="403" width="1" height="5" fill="#fff" shape-rendering="geometricPrecision"/>
<rect x="505.2" y="403" width="1" height="5" fill="#fff" shape-rendering="geometricPrecision"/>
<rect x="507.8" y="403" width="1" height="5" fill="#fff" shape-rendering="geometricPrecision"/>
<rect x="510.4" y="403" width="1" height="5" fill="#fff" shape-rendering="geometricPrecision"/>
<rect x="513" y="403" width="1" height="5" fill="#fff" shape-rendering="geometricPrecision"/>
<rect x="518.2" y="403" width="1" height="5" fill="#fff" shape-rendering="geometricPrecision"/>
<rect x="520.8" y="403" width="1" height="5" fill="#fff" shape-rendering="geometricPrecision"/>
<rect x="523.4" y="403" width="1" height="5" fill="#fff" shape-rendering="geometricPrecision"/>
<rect x="526" y="403" width="1" height="5" fill="#fff" shape-rendering="geometricPrecision"/>
<rect x="528.6" y="403" width="1" height="5" fill="#fff" shape-rendering="geometricPrecision"/>
<rect x="531.2" y="403" width="1" height="5" fill="#fff" shape-rendering="geometricPrecision"/>
<rect x="533.8" y="403" width="1" height="5" fill="#fff" shape-rendering="geometricPrecision"/>
<rect x="536.4" y="403" width="1" height="5" fill="#fff" shape-rendering="geometricPrecision"/>
<rect x="539" y="403" width="1" height="5" fill="#fff" shape-rendering="geometricPrecision"/>
<rect x="541.6" y="403" width="1" height="5" fill="#fff" shape-rendering="geometricPrecision"/>
<rect x="544.2" y="403" width="1" height="5" fill="#fff" shape-rendering="geometricPrecision"/>
<rect x="546.8" y="403" width="1" height="5" fill="#fff" shape-rendering="geometricPrecision"/>
<rect x="549.4" y="403" width="1" height="5" fill="#fff" shape-rendering="geometricPrecision"/>
<rect x="552" y="403" width="1" height="5" fill="#fff" shape-rendering="geometricPrecision"/>
<rect x="554.6" y="403" width="1" height="5" fill="#fff" shape-rendering="geometricPrecision"/>
<rect x="557.2" y="403" width="1" height="5" fill="#fff" shape-rendering="geometricPrecision"/>
<rect x="559.8" y="403" width="1" height="5" fill="#fff" shape-rendering="geometricPrecision"/>
<rect x="562.4" y="403" width="1" height="5" fill="#fff" shape-rendering="geometricPrecision"/>
<rect x="565" y="403" width="1" height="5" fill="#fff" shape-rendering="geometricPrecision"/>
<rect x="567.6" y="403" width="1" height="5" fill="#fff" shape-rendering="geometricPrecision"/>
<rect x="570.2" y="403" width="1" height="5" fill="#fff" shape-rendering="geometricPrecision"/>
<rect x="572.8" y="403" width="1" height="5" fill="#fff" shape-rendering="geometricPrecision"/>
<rect x="575.4" y="403" width="1" height="5" fill="#fff" shape-rendering="geometricPrecision"/>
<rect x="578" y="403" width="1" height="5" fill="#fff" shape-rendering="geometricPrecision"/>
<rect x="580.6" y="403" width="1" height="5" fill="#fff" shape-rendering="geometricPrecision"/>
<rect x="583.2" y="403" width="1" height="5" fill="#fff" shape-rendering="geometricPrecision"/>
<rect x="585.8" y="403" width="1" height="5" fill="#fff" shape-rendering="geometricPrecision"/>
<rect x="588.4" y="403" width="1" height="5" fill="#fff" shape-rendering="geometricPrecision"/>
<rect x="591" y="403" width="1" height="5" fill="#fff" shape-rendering="geometricPrecision"/>
<rect x="593.6" y="403" width="1" height="5" fill="#fff" shape-rendering="geometricPrecision"/>
<rect x="596.2" y="403" width="1" height="5" fill="#fff" shape-rendering="geometricPrecision"/>
<rect x="598.8" y="403" width="1" height="5" fill="#fff" shape-rendering="geometricPrecision"/>
<rect x="601.4" y="403" width="1" height="5" fill="#fff" shape-rendering="geometricPrecision"/>
<rect x="604" y="403" width="1" height="5" fill="#fff" shape-rendering="geometricPrecision"/>
<rect x="606.6" y="403" width="1" height="5" fill="#fff" shape-rendering="geometricPrecision"/>
<rect x="609.2" y="403" width="1" height="5" fill="#fff" shape-rendering="geometricPrecision"/>
<rect x="611.8" y="403" width="1" height="5" fill="#fff" shape-rendering="geometricPrecision"/>
<rect x="614.4" y="403" width="1" height="5" fill="#fff" shape-rendering="geometricPrecision"/>
<rect x="617" y="403" width="1" height="5" fill="#fff" shape-rendering="geometricPrecision"/>
<rect x="619.6" y="403" width="1" height="5" fill="#fff" shape-rendering="geometricPrecision"/>
<rect x="622.2" y="403" width="1" height="5" fill="#fff" shape-rendering="geometricPrecision"/>
<rect x="624.8" y="403" width="1" height="5" fill="#fff" shape-rendering="geometricPrecision"/>
<rect x="627.4" y="403" width="1" height="5" fill="#fff" shape-rendering="geometricPrecision"/>
<rect x="630" y="403" width="1" height="5" fill="#fff" shape-rendering="geometricPrecision"/>
<rect x="632.6" y="403" width="1" height="5" fill="#fff" shape-rendering="geometricPrecision"/>
<rect x="635.2" y="403" width="1" height="5" fill="#fff" shape-rendering="geometricPrecision"/>
<rect x="637.8" y="403" width="1" height="5" fill="#fff" shape-rendering="geometricPrecision"/>
<rect x="640.4" y="403" width="1" height="5" fill="#fff" shape-rendering="geometricPrecision"/>
<rect x="643" y="403" width="1" height="5" fill="#fff" shape-rendering="geometricPrecision"/>
<rect x="645.6" y="403" width="1" height="5" fill="#fff" shape-rendering="geometricPrecision"/>
<rect x="648.2" y="403" width="1" height="5" fill="#fff" shape-rendering="geometricPrecision"/>
<rect x="650.8" y="403" width="1" height="5" fill="#fff" shape-rendering="geometricPrecision"/>
<rect x="653.4" y="403" width="1" height="5" fill="#fff" shape-rendering="geometricPrecision"/>
<rect x="656" y="403" width="1" height="5" fill="#fff" shape-rendering="geometricPrecision"/>
<rect x="658.6" y="403" width="1" height="5" fill="#fff" shape-rendering="geometricPrecision"/>
<rect x="661.2" y="403" width="1" height="5" fill="#fff" shape-rendering="geometricPrecision"/>
<rect x="663.8" y="403" width="1" height="5" fill="#fff" shape-rendering="geometricPrecision"/>
<rect x="666.4" y="403" width="1" height="5" fill="#fff" shape-rendering="geometricPrecision"/>
<rect x="669" y="403" width="1" height="5" fill="#fff" shape-rendering="geometricPrecision"/>
<rect x="671.6" y="403" width="1" height="5" fill="#fff" shape-rendering="geometricPrecision"/>
<rect x="674.2" y="403" width="1" height="5" fill="#fff" shape-rendering="geometricPrecision"/>
<rect x="676.8" y="403" width="1" height="5" fill="#fff" shape-rendering="geometricPrecision"/>
<rect x="679.4" y="403" width="1" height="5" fill="#fff" shape-rendering="geometricPrecision"/>
<rect x="682" y="403" width="1" height="5" fill="#fff" shape-rendering="geometricPrecision"/>
<rect x="684.6" y="403" width="1" height="5" fill="#fff" shape-rendering="geometricPrecision"/>
<rect x="687.2" y="403" width="1" height="5" fill="#fff" shape-rendering="geometricPrecision"/>
<rect x="689.8" y="403" width="1" height="5" fill="#fff" shape-rendering="geometricPrecision"/>
<rect x="692.4" y="403" width="1" height="5" fill="#fff" shape-rendering="geometricPrecision"/>
<rect x="695" y="403" width="1" height="5" fill="#fff" shape-rendering="geometricPrecision"/>
<rect x="697.6" y="403" width="1" height="5" fill="#fff" shape-rendering="geometricPrecision"/>
<rect x="700.2" y="403" width="1" height="5" fill="#fff" shape-rendering="geometricPrecision"/>
<rect x="702.8" y="403" width="1" height="5" fill="#fff" shape-rendering="geometricPrecision"/>
<rect x="705.4" y="403" width="1" height="5" fill="#fff" shape-rendering="geometricPrecision"/>
<rect x="708" y="403" width="1" height="5" fill="#fff" shape-rendering="geometricPrecision"/>
<rect x="710.6" y="403" width="1" height="5" fill="#fff" shape-rendering="geometricPrecision"/>
<rect x="713.2" y="403" width="1" height="5" fill="#fff" shape-rendering="geometricPrecision"/>
<rect x="715.8" y="403" width="1" height="5" fill="#fff" shape-rendering="geometricPrecision"/>
<rect x="718.4" y="403" width="1" height="5" fill="#fff" shape-rendering="geometricPrecision"/>
<rect x="602" y="401" width="9" height="5" fill="#fff"/>
<rect x="468" y="416" width="278" height="16" fill="#000"/>
<rect x="469" y="417" width="276" height="14" fill="#fff"/>
<rect x="468" y="420" width="8" height="1" fill="#000"/>
<rect x="468" y="425" width="8" height="1" fill="#000"/>
<rect x="738" y="420" width="8" height="1" fill="#000"/>
<rect x="738" y="425" width="8" height="1" fill="#000"/>
<rect x="476" y="418" width="4" height="13" fill="#000"/>
<rect x="734" y="418" width="4" height="13" fill="#000"/>
<rect x="480" y="419" width="10" height="1" fill="#000"/>
<rect x="489" y="419" width="1" height="8" fill="#000"/>
<rect x="482" y="426" width="8" height="1" fill="#000"/>
<rect x="486" y="426" width="1" height="5" fill="#000"/>
<rect x="483" y="426" width="1" height="3" fill="#000"/>
<rect x="480" y="428" width="4" height="1" fill="#000"/>
<rect x="724" y="419" width="10" height="1" fill="#000"/>
<rect x="724" y="419" width="1" height="8" fill="#000"/>
<rect x="724" y="426" width="8" height="1" fill="#000"/>
<rect x="727" y="426" width="1" height="5" fill="#000"/>
<rect x="730" y="426" width="1" height="3" fill="#000"/>
<rect x="730" y="428" width="4" height="1" fill="#000"/>
<rect x="491" y="419" width="231" height="11" fill="#000"/>
<rect x="492.2" y="420" width="1" height="5" fill="#fff" shape-rendering="geometricPrecision"/>
<rect x="494.8" y="420" width="1" height="5" fill="#fff" shape-rendering="geometricPrecision"/>
<rect x="497.4" y="420" width="1" height="5" fill="#fff" shape-rendering="geometricPrecision"/>
<rect x="500" y="420" width="1" height="5" fill="#fff" shape-rendering="geometricPrecision"/>
<rect x="502.6" y="420" width="1" height="5" fill="#fff" shape-rendering="geometricPrecision"/>
<rect x="505.2" y="420" width="1" height="5" fill="#fff" shape-rendering="geometricPrecision"/>
<rect x="507.8" y="420" width="1" height="5" fill="#fff" shape-rendering="geometricPrecision"/>
<rect x="510.4" y="420" width="1" height="5" fill="#fff" shape-rendering="geometricPrecision"/>
<rect x="513" y="420" width="1" height="5" fill="#fff" shape-rendering="geometricPrecision"/>
<rect x="518.2" y="420" width="1" height="5" fill="#fff" shape-rendering="geometricPrecision"/>
<rect x="520.8" y="420" width="1" height="5" fill="#fff" shape-rendering="geometricPrecision"/>
<rect x="523.4" y="420" width="1" height="5" fill="#fff" shape-rendering="geometricPrecision"/>
<rect x="526" y="420" width="1" height="5" fill="#fff" shape-rendering="geometricPrecision"/>
<rect x="528.6" y="420" width="1" height="5" fill="#fff" shape-rendering="geometricPrecision"/>
<rect x="531.2" y="420" width="1" height="5" fill="#fff" shape-rendering="geometricPrecision"/>
<rect x="533.8" y="420" width="1" height="5" fill="#fff" shape-rendering="geometricPrecision"/>
<rect x="536.4" y="420" width="1" height="5" fill="#fff" shape-rendering="geometricPrecision"/>
<rect x="539" y="420" width="1" height="5" fill="#fff" shape-rendering="geometricPrecision"/>
<rect x="541.6" y="420" width="1" height="5" fill="#fff" shape-rendering="geometricPrecision"/>
<rect x="544.2" y="420" width="1" height="5" fill="#fff" shape-rendering="geometricPrecision"/>
<rect x="546.8" y="420" width="1" height="5" fill="#fff" shape-rendering="geometricPrecision"/>
<rect x="549.4" y="420" width="1" height="5" fill="#fff" shape-rendering="geometricPrecision"/>
<rect x="552" y="420" width="1" height="5" fill="#fff" shape-rendering="geometricPrecision"/>
<rect x="554.6" y="420" width="1" height="5" fill="#fff" shape-rendering="geometricPrecision"/>
<rect x="557.2" y="420" width="1" height="5" fill="#fff" shape-rendering="geometricPrecision"/>
<rect x="559.8" y="420" width="1" height="5" fill="#fff" shape-rendering="geometricPrecision"/>
<rect x="562.4" y="420" width="1" height="5" fill="#fff" shape-rendering="geometricPrecision"/>
<rect x="565" y="420" width="1" height="5" fill="#fff" shape-rendering="geometricPrecision"/>
<rect x="567.6" y="420" width="1" height="5" fill="#fff" shape-rendering="geometricPrecision"/>
<rect x="570.2" y="420" width="1" height="5" fill="#fff" shape-rendering="geometricPrecision"/>
<rect x="572.8" y="420" width="1" height="5" fill="#fff" shape-rendering="geometricPrecision"/>
<rect x="575.4" y="420" width="1" height="5" fill="#fff" shape-rendering="geometricPrecision"/>
<rect x="578" y="420" width="1" height="5" fill="#fff" shape-rendering="geometricPrecision"/>
<rect x="580.6" y="420" width="1" height="5" fill="#fff" shape-rendering="geometricPrecision"/>
<rect x="583.2" y="420" width="1" height="5" fill="#fff" shape-rendering="geometricPrecision"/>
<rect x="585.8" y="420" width="1" height="5" fill="#fff" shape-rendering="geometricPrecision"/>
<rect x="588.4" y="420" width="1" height="5" fill="#fff" shape-rendering="geometricPrecision"/>
<rect x="591" y="420" width="1" height="5" fill="#fff" shape-rendering="geometricPrecision"/>
<rect x="593.6" y="420" width="1" height="5" fill="#fff" shape-rendering="geometricPrecision"/>
<rect x="596.2" y="420" width="1" height="5" fill="#fff" shape-rendering="geometricPrecision"/>
<rect x="598.8" y="420" width="1" height="5" fill="#fff" shape-rendering="geometricPrecision"/>
<rect x="601.4" y="420" width="1" height="5" fill="#fff" shape-rendering="geometricPrecision"/>
<rect x="604" y="420" width="1" height="5" fill="#fff" shape-rendering="geometricPrecision"/>
<rect x="606.6" y="420" width="1" height="5" fill="#fff" shape-rendering="geometricPrecision"/>
<rect x="609.2" y="420" width="1" height="5" fill="#fff" shape-rendering="geometricPrecision"/>
<rect x="611.8" y="420" width="1" height="5" fill="#fff" shape-rendering="geometricPrecision"/>
<rect x="614.4" y="420" width="1" height="5" fill="#fff" shape-rendering="geometricPrecision"/>
<rect x="617" y="420" width="1" height="5" fill="#fff" shape-rendering="geometricPrecision"/>
<rect x="619.6" y="420" width="1" height="5" fill="#fff" shape-rendering="geometricPrecision"/>
<rect x="622.2" y="420" width="1" height="5" fill="#fff" shape-rendering="geometricPrecision"/>
<rect x="624.8" y="420" width="1" height="5" fill="#fff" shape-rendering="geometricPrecision"/>
<rect x="627.4" y="420" width="1" height="5" fill="#fff" shape-rendering="geometricPrecision"/>
<rect x="630" y="420" width="1" height="5" fill="#fff" shape-rendering="geometricPrecision"/>
<rect x="632.6" y="420" width="1" height="5" fill="#fff" shape-rendering="geometricPrecision"/>
<rect x="635.2" y="420" width="1" height="5" fill="#fff" shape-rendering="geometricPrecision"/>
<rect x="637.8" y="420" width="1" height="5" fill="#fff" shape-rendering="geometricPrecision"/>
<rect x="640.4" y="420" width="1" height="5" fill="#fff" shape-rendering="geometricPrecision"/>
<rect x="643" y="420" width="1" height="5" fill="#fff" shape-rendering="geometricPrecision"/>
<rect x="645.6" y="420" width="1" height="5" fill="#fff" shape-rendering="geometricPrecision"/>
<rect x="648.2" y="420" width="1" height="5" fill="#fff" shape-rendering="geometricPrecision"/>
<rect x="650.8" y="420" width="1" height="5" fill="#fff" shape-rendering="geometricPrecision"/>
<rect x="653.4" y="420" width="1" height="5" fill="#fff" shape-rendering="geometricPrecision"/>
<rect x="656" y="420" width="1" height="5" fill="#fff" shape-rendering="geometricPrecision"/>
<rect x="658.6" y="420" width="1" height="5" fill="#fff" shape-rendering="geometricPrecision"/>
<rect x="661.2" y="420" width="1" height="5" fill="#fff" shape-rendering="geometricPrecision"/>
<rect x="663.8" y="420" width="1" height="5" fill="#fff" shape-rendering="geometricPrecision"/>
<rect x="666.4" y="420" width="1" height="5" fill="#fff" shape-rendering="geometricPrecision"/>
<rect x="669" y="420" width="1" height="5" fill="#fff" shape-rendering="geometricPrecision"/>
<rect x="671.6" y="420" width="1" height="5" fill="#fff" shape-rendering="geometricPrecision"/>
<rect x="674.2" y="420" width="1" height="5" fill="#fff" shape-rendering="geometricPrecision"/>
<rect x="676.8" y="420" width="1" height="5" fill="#fff" shape-rendering="geometricPrecision"/>
<rect x="679.4" y="420" width="1" height="5" fill="#fff" shape-rendering="geometricPrecision"/>
<rect x="682" y="420" width="1" height="5" fill="#fff" shape-rendering="geometricPrecision"/>
<rect x="684.6" y="420" width="1" height="5" fill="#fff" shape-rendering="geometricPrecision"/>
<rect x="687.2" y="420" width="1" height="5" fill="#fff" shape-rendering="geometricPrecision"/>
<rect x="689.8" y="420" width="1" height="5" fill="#fff" shape-rendering="geometricPrecision"/>
<rect x="692.4" y="420" width="1" height="5" fill="#fff" shape-rendering="geometricPrecision"/>
<rect x="695" y="420" width="1" height="5" fill="#fff" shape-rendering="geometricPrecision"/>
<rect x="697.6" y="420" width="1" height="5" fill="#fff" shape-rendering="geometricPrecision"/>
<rect x="700.2" y="420" width="1" height="5" fill="#fff" shape-rendering="geometricPrecision"/>
<rect x="702.8" y="420" width="1" height="5" fill="#fff" shape-rendering="geometricPrecision"/>
<rect x="705.4" y="420" width="1" height="5" fill="#fff" shape-rendering="geometricPrecision"/>
<rect x="708" y="420" width="1" height="5" fill="#fff" shape-rendering="geometricPrecision"/>
<rect x="710.6" y="420" width="1" height="5" fill="#fff" shape-rendering="geometricPrecision"/>
<rect x="713.2" y="420" width="1" height="5" fill="#fff" shape-rendering="geometricPrecision"/>
<rect x="715.8" y="420" width="1" height="5" fill="#fff" shape-rendering="geometricPrecision"/>
<rect x="718.4" y="420" width="1" height="5" fill="#fff" shape-rendering="geometricPrecision"/>
<rect x="602" y="426" width="9" height="5" fill="#fff"/>
<rect x="578.3" y="369.5" width="56.7" height="14.2" fill="#fff" rx="2.5" shape-rendering="geometricPrecision"/>
<text x="0" y="381.8" font-size="13.6" text-anchor="middle" font-weight="normal" fill="#000" letter-spacing="1.3" transform="translate(607.18 0) scale(0.82 1)">BANK 0</text>
<rect x="578.3" y="407.8" width="56.7" height="15" fill="#fff" rx="2.5" shape-rendering="geometricPrecision"/>
<text x="0" y="420.5" font-size="13.6" text-anchor="middle" font-weight="normal" fill="#000" letter-spacing="1.3" transform="translate(607.18 0) scale(0.82 1)">BANK 1</text>
<rect x="409" y="390" width="13" height="119" fill="#000"/>
<rect x="420" y="391" width="1" height="117" fill="#fff"/>
<rect x="415" y="391" width="1" height="117" fill="#fff"/>
<rect x="410" y="391" width="11" height="1" fill="#fff"/>
<rect x="410" y="507" width="11" height="1" fill="#fff"/>
<rect x="410" y="396.6" width="11" height="1.4" fill="#fff" shape-rendering="geometricPrecision"/>
<rect x="410" y="402.44" width="11" height="1.4" fill="#fff" shape-rendering="geometricPrecision"/>
<rect x="410" y="408.28" width="11" height="1.4" fill="#fff" shape-rendering="geometricPrecision"/>
<rect x="410" y="414.12" width="11" height="1.4" fill="#fff" shape-rendering="geometricPrecision"/>
<rect x="410" y="419.96" width="11" height="1.4" fill="#fff" shape-rendering="geometricPrecision"/>
<rect x="410" y="425.8" width="11" height="1.4" fill="#fff" shape-rendering="geometricPrecision"/>
<rect x="410" y="431.64" width="11" height="1.4" fill="#fff" shape-rendering="geometricPrecision"/>
<rect x="410" y="437.48" width="11" height="1.4" fill="#fff" shape-rendering="geometricPrecision"/>
<rect x="410" y="443.32" width="11" height="1.4" fill="#fff" shape-rendering="geometricPrecision"/>
<rect x="410" y="449.16" width="11" height="1.4" fill="#fff" shape-rendering="geometricPrecision"/>
<rect x="410" y="455" width="11" height="1.4" fill="#fff" shape-rendering="geometricPrecision"/>
<rect x="410" y="460.84" width="11" height="1.4" fill="#fff" shape-rendering="geometricPrecision"/>
<rect x="410" y="466.68" width="11" height="1.4" fill="#fff" shape-rendering="geometricPrecision"/>
<rect x="410" y="472.52" width="11" height="1.4" fill="#fff" shape-rendering="geometricPrecision"/>
<rect x="410" y="478.36" width="11" height="1.4" fill="#fff" shape-rendering="geometricPrecision"/>
<rect x="410" y="484.2" width="11" height="1.4" fill="#fff" shape-rendering="geometricPrecision"/>
<rect x="410" y="490.04" width="11" height="1.4" fill="#fff" shape-rendering="geometricPrecision"/>
<rect x="410" y="495.88" width="11" height="1.4" fill="#fff" shape-rendering="geometricPrecision"/>
<rect x="410" y="501.72" width="11" height="1.4" fill="#fff" shape-rendering="geometricPrecision"/>
<rect x="417" y="504" width="2" height="2" fill="#fff"/>
<rect x="431" y="390" width="13" height="119" fill="#000"/>
<rect x="432" y="391" width="1" height="117" fill="#fff"/>
<rect x="437" y="391" width="1" height="117" fill="#fff"/>
<rect x="432" y="391" width="11" height="1" fill="#fff"/>
<rect x="432" y="507" width="11" height="1" fill="#fff"/>
<rect x="432" y="396.6" width="11" height="1.4" fill="#fff" shape-rendering="geometricPrecision"/>
<rect x="432" y="402.44" width="11" height="1.4" fill="#fff" shape-rendering="geometricPrecision"/>
<rect x="432" y="408.28" width="11" height="1.4" fill="#fff" shape-rendering="geometricPrecision"/>
<rect x="432" y="414.12" width="11" height="1.4" fill="#fff" shape-rendering="geometricPrecision"/>
<rect x="432" y="419.96" width="11" height="1.4" fill="#fff" shape-rendering="geometricPrecision"/>
<rect x="432" y="425.8" width="11" height="1.4" fill="#fff" shape-rendering="geometricPrecision"/>
<rect x="432" y="431.64" width="11" height="1.4" fill="#fff" shape-rendering="geometricPrecision"/>
<rect x="432" y="437.48" width="11" height="1.4" fill="#fff" shape-rendering="geometricPrecision"/>
<rect x="432" y="443.32" width="11" height="1.4" fill="#fff" shape-rendering="geometricPrecision"/>
<rect x="432" y="449.16" width="11" height="1.4" fill="#fff" shape-rendering="geometricPrecision"/>
<rect x="432" y="455" width="11" height="1.4" fill="#fff" shape-rendering="geometricPrecision"/>
<rect x="432" y="460.84" width="11" height="1.4" fill="#fff" shape-rendering="geometricPrecision"/>
<rect x="432" y="466.68" width="11" height="1.4" fill="#fff" shape-rendering="geometricPrecision"/>
<rect x="432" y="472.52" width="11" height="1.4" fill="#fff" shape-rendering="geometricPrecision"/>
<rect x="432" y="478.36" width="11" height="1.4" fill="#fff" shape-rendering="geometricPrecision"/>
<rect x="432" y="484.2" width="11" height="1.4" fill="#fff" shape-rendering="geometricPrecision"/>
<rect x="432" y="490.04" width="11" height="1.4" fill="#fff" shape-rendering="geometricPrecision"/>
<rect x="432" y="495.88" width="11" height="1.4" fill="#fff" shape-rendering="geometricPrecision"/>
<rect x="432" y="501.72" width="11" height="1.4" fill="#fff" shape-rendering="geometricPrecision"/>
<rect x="439" y="504" width="3" height="2" fill="#fff"/>
<rect x="499" y="442" width="101" height="12" fill="#000"/>
<rect x="500" y="448" width="99" height="1" fill="#fff"/>
<rect x="504.67" y="443" width="1.4" height="10" fill="#fff" shape-rendering="geometricPrecision"/>
<rect x="510.54" y="443" width="1.4" height="10" fill="#fff" shape-rendering="geometricPrecision"/>
<rect x="516.41" y="443" width="1.4" height="10" fill="#fff" shape-rendering="geometricPrecision"/>
<rect x="522.28" y="443" width="1.4" height="10" fill="#fff" shape-rendering="geometricPrecision"/>
<rect x="528.15" y="443" width="1.4" height="10" fill="#fff" shape-rendering="geometricPrecision"/>
<rect x="534.02" y="443" width="1.4" height="10" fill="#fff" shape-rendering="geometricPrecision"/>
<rect x="539.89" y="443" width="1.4" height="10" fill="#fff" shape-rendering="geometricPrecision"/>
<rect x="545.76" y="443" width="1.4" height="10" fill="#fff" shape-rendering="geometricPrecision"/>
<rect x="551.63" y="443" width="1.4" height="10" fill="#fff" shape-rendering="geometricPrecision"/>
<rect x="557.5" y="443" width="1.4" height="10" fill="#fff" shape-rendering="geometricPrecision"/>
<rect x="563.37" y="443" width="1.4" height="10" fill="#fff" shape-rendering="geometricPrecision"/>
<rect x="569.24" y="443" width="1.4" height="10" fill="#fff" shape-rendering="geometricPrecision"/>
<rect x="575.11" y="443" width="1.4" height="10" fill="#fff" shape-rendering="geometricPrecision"/>
<rect x="580.98" y="443" width="1.4" height="10" fill="#fff" shape-rendering="geometricPrecision"/>
<rect x="586.85" y="443" width="1.4" height="10" fill="#fff" shape-rendering="geometricPrecision"/>
<rect x="592.72" y="443" width="1.4" height="10" fill="#fff" shape-rendering="geometricPrecision"/>
<rect x="501" y="450" width="3" height="2" fill="#fff"/>
<rect x="616" y="442" width="77" height="12" fill="#000"/>
<rect x="617" y="448" width="75" height="1" fill="#fff"/>
<rect x="621.7" y="443" width="1.4" height="10" fill="#fff" shape-rendering="geometricPrecision"/>
<rect x="627.6" y="443" width="1.4" height="10" fill="#fff" shape-rendering="geometricPrecision"/>
<rect x="633.5" y="443" width="1.4" height="10" fill="#fff" shape-rendering="geometricPrecision"/>
<rect x="639.4" y="443" width="1.4" height="10" fill="#fff" shape-rendering="geometricPrecision"/>
<rect x="645.3" y="443" width="1.4" height="10" fill="#fff" shape-rendering="geometricPrecision"/>
<rect x="651.2" y="443" width="1.4" height="10" fill="#fff" shape-rendering="geometricPrecision"/>
<rect x="657.1" y="443" width="1.4" height="10" fill="#fff" shape-rendering="geometricPrecision"/>
<rect x="663" y="443" width="1.4" height="10" fill="#fff" shape-rendering="geometricPrecision"/>
<rect x="668.9" y="443" width="1.4" height="10" fill="#fff" shape-rendering="geometricPrecision"/>
<rect x="674.8" y="443" width="1.4" height="10" fill="#fff" shape-rendering="geometricPrecision"/>
<rect x="680.7" y="443" width="1.4" height="10" fill="#fff" shape-rendering="geometricPrecision"/>
<rect x="686.6" y="443" width="1.4" height="10" fill="#fff" shape-rendering="geometricPrecision"/>
<rect x="618" y="450" width="3" height="2" fill="#fff"/>
<rect x="725" y="481" width="13" height="31" fill="#000"/>
<rect x="726" y="482" width="11" height="29" fill="#fff"/>
<rect x="725" y="483" width="6" height="4" fill="#000"/>
<rect x="732" y="483" width="4" height="4" fill="#000"/>
<rect x="725" y="488" width="6" height="5" fill="#000"/>
<rect x="732" y="488" width="4" height="5" fill="#000"/>
<rect x="725" y="494" width="6" height="5" fill="#000"/>
<rect x="732" y="494" width="4" height="5" fill="#000"/>
<rect x="725" y="500" width="6" height="4" fill="#000"/>
<rect x="732" y="500" width="4" height="4" fill="#000"/>
<rect x="725" y="506" width="6" height="4" fill="#000"/>
<rect x="732" y="506" width="4" height="4" fill="#000"/>
<rect x="733" y="507" width="2" height="2" fill="#fff"/>
<rect x="747" y="481" width="13" height="31" fill="#000"/>
<rect x="748" y="482" width="11" height="29" fill="#fff"/>
<rect x="747" y="483" width="6" height="4" fill="#000"/>
<rect x="754" y="483" width="6" height="4" fill="#000"/>
<rect x="747" y="488" width="6" height="5" fill="#000"/>
<rect x="754" y="488" width="6" height="5" fill="#000"/>
<rect x="747" y="494" width="6" height="5" fill="#000"/>
<rect x="754" y="494" width="6" height="5" fill="#000"/>
<rect x="747" y="500" width="6" height="4" fill="#000"/>
<rect x="754" y="500" width="6" height="4" fill="#000"/>
<rect x="747" y="506" width="6" height="4" fill="#000"/>
<rect x="754" y="506" width="6" height="4" fill="#000"/>
<rect x="755" y="507" width="3" height="2" fill="#fff"/>
<rect x="755" y="433" width="31" height="38" fill="#000"/>
<rect x="779" y="429" width="7" height="46" fill="#000"/>
<rect x="782" y="427" width="4" height="50" fill="#000"/>
<rect x="753" y="440" width="2" height="24" fill="#000"/>
<rect x="749" y="442" width="5" height="9" fill="#000"/>
<rect x="750" y="443" width="3" height="7" fill="#fff"/>
<rect x="749" y="453" width="5" height="9" fill="#000"/>
<rect x="750" y="454" width="3" height="7" fill="#fff"/>
<rect x="754" y="450" width="2" height="4" fill="#fff"/>
<rect x="538" y="487" width="56" height="23.6" fill="#000"/>
<rect x="539" y="488" width="54" height="21.6" fill="#fff"/>
<rect x="539" y="493.9" width="54" height="1.2" fill="#000" shape-rendering="geometricPrecision"/>
<rect x="538.7" y="489.6" width="7.4" height="4.6" fill="#000" rx="1" shape-rendering="geometricPrecision"/>
<rect x="539.9" y="490.7" width="5" height="1.3" fill="#fff" rx="0.6" shape-rendering="geometricPrecision"/>
<rect x="538.8" y="496.9" width="7.2" height="1.8" fill="#000" shape-rendering="geometricPrecision"/>
<rect x="547.4" y="489.6" width="7.4" height="4.6" fill="#000" rx="1" shape-rendering="geometricPrecision"/>
<rect x="548.6" y="490.7" width="5" height="1.3" fill="#fff" rx="0.6" shape-rendering="geometricPrecision"/>
<rect x="547.5" y="496.9" width="7.2" height="1.8" fill="#000" shape-rendering="geometricPrecision"/>
<rect x="556.7" y="489.6" width="7.4" height="4.6" fill="#000" rx="1" shape-rendering="geometricPrecision"/>
<rect x="557.9" y="490.7" width="5" height="1.3" fill="#fff" rx="0.6" shape-rendering="geometricPrecision"/>
<rect x="556.8" y="496.9" width="7.2" height="1.8" fill="#000" shape-rendering="geometricPrecision"/>
<rect x="566" y="489.6" width="7.4" height="4.6" fill="#000" rx="1" shape-rendering="geometricPrecision"/>
<rect x="567.2" y="490.7" width="5" height="1.3" fill="#fff" rx="0.6" shape-rendering="geometricPrecision"/>
<rect x="566.1" y="496.9" width="7.2" height="1.8" fill="#000" shape-rendering="geometricPrecision"/>
<rect x="575.1" y="489.6" width="7.4" height="4.6" fill="#000" rx="1" shape-rendering="geometricPrecision"/>
<rect x="576.3" y="490.7" width="5" height="1.3" fill="#fff" rx="0.6" shape-rendering="geometricPrecision"/>
<rect x="575.2" y="496.9" width="7.2" height="1.8" fill="#000" shape-rendering="geometricPrecision"/>
<rect x="583.9" y="489.6" width="7.4" height="4.6" fill="#000" rx="1" shape-rendering="geometricPrecision"/>
<rect x="585.1" y="490.7" width="5" height="1.3" fill="#fff" rx="0.6" shape-rendering="geometricPrecision"/>
<rect x="584" y="496.9" width="7.2" height="1.8" fill="#000" shape-rendering="geometricPrecision"/>
<rect x="543" y="500.2" width="7.2" height="7.6" fill="#000" shape-rendering="geometricPrecision"/>
<rect x="544" y="501.2" width="5.2" height="5.6" fill="#fff" shape-rendering="geometricPrecision"/>
<rect x="552.3" y="500.2" width="7.2" height="7.6" fill="#000" shape-rendering="geometricPrecision"/>
<rect x="553.3" y="501.2" width="5.2" height="5.6" fill="#fff" shape-rendering="geometricPrecision"/>
<rect x="561.3" y="500.2" width="7.2" height="7.6" fill="#000" shape-rendering="geometricPrecision"/>
<rect x="562.3" y="501.2" width="5.2" height="5.6" fill="#fff" shape-rendering="geometricPrecision"/>
<rect x="570.3" y="500.2" width="7.2" height="7.6" fill="#000" shape-rendering="geometricPrecision"/>
<rect x="571.3" y="501.2" width="5.2" height="5.6" fill="#fff" shape-rendering="geometricPrecision"/>
<rect x="581.1" y="500.2" width="7.2" height="7.6" fill="#000" shape-rendering="geometricPrecision"/>
<rect x="582.1" y="501.2" width="5.2" height="5.6" fill="#fff" shape-rendering="geometricPrecision"/>
<rect x="536.8" y="501.2" width="3.4" height="5.6" fill="#fff" shape-rendering="geometricPrecision"/>
<rect x="536.8" y="501.2" width="3.4" height="1" fill="#000" shape-rendering="geometricPrecision"/>
<rect x="536.8" y="505.8" width="3.4" height="1" fill="#000" shape-rendering="geometricPrecision"/>
<rect x="537.8" y="503" width="1.4" height="2" fill="#000" shape-rendering="geometricPrecision"/>
<rect x="591.8" y="501.2" width="3.4" height="5.6" fill="#fff" shape-rendering="geometricPrecision"/>
<rect x="591.8" y="501.2" width="3.4" height="1" fill="#000" shape-rendering="geometricPrecision"/>
<rect x="591.8" y="505.8" width="3.4" height="1" fill="#000" shape-rendering="geometricPrecision"/>
<rect x="593.2" y="503" width="1.4" height="2" fill="#000" shape-rendering="geometricPrecision"/>
<rect x="596.2" y="487" width="112.8" height="23.6" fill="#000"/>
<rect x="597.2" y="488" width="110.8" height="21.6" fill="#fff"/>
<rect x="597.2" y="493.9" width="110.8" height="1.2" fill="#000" shape-rendering="geometricPrecision"/>
<rect x="597.9" y="489.6" width="7.4" height="4.6" fill="#000" rx="1" shape-rendering="geometricPrecision"/>
<rect x="599.1" y="490.7" width="5" height="1.3" fill="#fff" rx="0.6" shape-rendering="geometricPrecision"/>
<rect x="598" y="496.9" width="7.2" height="1.8" fill="#000" shape-rendering="geometricPrecision"/>
<rect x="607.11" y="489.6" width="7.4" height="4.6" fill="#000" rx="1" shape-rendering="geometricPrecision"/>
<rect x="608.31" y="490.7" width="5" height="1.3" fill="#fff" rx="0.6" shape-rendering="geometricPrecision"/>
<rect x="607.21" y="496.9" width="7.2" height="1.8" fill="#000" shape-rendering="geometricPrecision"/>
<rect x="616.32" y="489.6" width="7.4" height="4.6" fill="#000" rx="1" shape-rendering="geometricPrecision"/>
<rect x="617.52" y="490.7" width="5" height="1.3" fill="#fff" rx="0.6" shape-rendering="geometricPrecision"/>
<rect x="616.42" y="496.9" width="7.2" height="1.8" fill="#000" shape-rendering="geometricPrecision"/>
<rect x="625.53" y="489.6" width="7.4" height="4.6" fill="#000" rx="1" shape-rendering="geometricPrecision"/>
<rect x="626.73" y="490.7" width="5" height="1.3" fill="#fff" rx="0.6" shape-rendering="geometricPrecision"/>
<rect x="625.63" y="496.9" width="7.2" height="1.8" fill="#000" shape-rendering="geometricPrecision"/>
<rect x="634.74" y="489.6" width="7.4" height="4.6" fill="#000" rx="1" shape-rendering="geometricPrecision"/>
<rect x="635.94" y="490.7" width="5" height="1.3" fill="#fff" rx="0.6" shape-rendering="geometricPrecision"/>
<rect x="634.84" y="496.9" width="7.2" height="1.8" fill="#000" shape-rendering="geometricPrecision"/>
<rect x="643.95" y="489.6" width="7.4" height="4.6" fill="#000" rx="1" shape-rendering="geometricPrecision"/>
<rect x="645.15" y="490.7" width="5" height="1.3" fill="#fff" rx="0.6" shape-rendering="geometricPrecision"/>
<rect x="644.05" y="496.9" width="7.2" height="1.8" fill="#000" shape-rendering="geometricPrecision"/>
<rect x="653.16" y="489.6" width="7.4" height="4.6" fill="#000" rx="1" shape-rendering="geometricPrecision"/>
<rect x="654.36" y="490.7" width="5" height="1.3" fill="#fff" rx="0.6" shape-rendering="geometricPrecision"/>
<rect x="653.26" y="496.9" width="7.2" height="1.8" fill="#000" shape-rendering="geometricPrecision"/>
<rect x="662.37" y="489.6" width="7.4" height="4.6" fill="#000" rx="1" shape-rendering="geometricPrecision"/>
<rect x="663.57" y="490.7" width="5" height="1.3" fill="#fff" rx="0.6" shape-rendering="geometricPrecision"/>
<rect x="662.47" y="496.9" width="7.2" height="1.8" fill="#000" shape-rendering="geometricPrecision"/>
<rect x="671.58" y="489.6" width="7.4" height="4.6" fill="#000" rx="1" shape-rendering="geometricPrecision"/>
<rect x="672.78" y="490.7" width="5" height="1.3" fill="#fff" rx="0.6" shape-rendering="geometricPrecision"/>
<rect x="671.68" y="496.9" width="7.2" height="1.8" fill="#000" shape-rendering="geometricPrecision"/>
<rect x="680.79" y="489.6" width="7.4" height="4.6" fill="#000" rx="1" shape-rendering="geometricPrecision"/>
<rect x="681.99" y="490.7" width="5" height="1.3" fill="#fff" rx="0.6" shape-rendering="geometricPrecision"/>
<rect x="680.89" y="496.9" width="7.2" height="1.8" fill="#000" shape-rendering="geometricPrecision"/>
<rect x="690" y="489.6" width="7.4" height="4.6" fill="#000" rx="1" shape-rendering="geometricPrecision"/>
<rect x="691.2" y="490.7" width="5" height="1.3" fill="#fff" rx="0.6" shape-rendering="geometricPrecision"/>
<rect x="690.1" y="496.9" width="7.2" height="1.8" fill="#000" shape-rendering="geometricPrecision"/>
<rect x="699.21" y="489.6" width="7.4" height="4.6" fill="#000" rx="1" shape-rendering="geometricPrecision"/>
<rect x="700.41" y="490.7" width="5" height="1.3" fill="#fff" rx="0.6" shape-rendering="geometricPrecision"/>
<rect x="699.31" y="496.9" width="7.2" height="1.8" fill="#000" shape-rendering="geometricPrecision"/>
<rect x="602.4" y="500.2" width="6.5" height="7.6" fill="#000" shape-rendering="geometricPrecision"/>
<rect x="603.4" y="501.2" width="4.5" height="5.6" fill="#fff" shape-rendering="geometricPrecision"/>
<rect x="611.7" y="500.2" width="6.5" height="7.6" fill="#000" shape-rendering="geometricPrecision"/>
<rect x="612.7" y="501.2" width="4.5" height="5.6" fill="#fff" shape-rendering="geometricPrecision"/>
<rect x="621" y="500.2" width="6.5" height="7.6" fill="#000" shape-rendering="geometricPrecision"/>
<rect x="622" y="501.2" width="4.5" height="5.6" fill="#fff" shape-rendering="geometricPrecision"/>
<rect x="630.3" y="500.2" width="6.5" height="7.6" fill="#000" shape-rendering="geometricPrecision"/>
<rect x="631.3" y="501.2" width="4.5" height="5.6" fill="#fff" shape-rendering="geometricPrecision"/>
<rect x="639.6" y="500.2" width="6.5" height="7.6" fill="#000" shape-rendering="geometricPrecision"/>
<rect x="640.6" y="501.2" width="4.5" height="5.6" fill="#fff" shape-rendering="geometricPrecision"/>
<rect x="648.9" y="500.2" width="6.5" height="7.6" fill="#000" shape-rendering="geometricPrecision"/>
<rect x="649.9" y="501.2" width="4.5" height="5.6" fill="#fff" shape-rendering="geometricPrecision"/>
<rect x="658.2" y="500.2" width="6.5" height="7.6" fill="#000" shape-rendering="geometricPrecision"/>
<rect x="659.2" y="501.2" width="4.5" height="5.6" fill="#fff" shape-rendering="geometricPrecision"/>
<rect x="667.5" y="500.2" width="6.5" height="7.6" fill="#000" shape-rendering="geometricPrecision"/>
<rect x="668.5" y="501.2" width="4.5" height="5.6" fill="#fff" shape-rendering="geometricPrecision"/>
<rect x="676.8" y="500.2" width="6.5" height="7.6" fill="#000" shape-rendering="geometricPrecision"/>
<rect x="677.8" y="501.2" width="4.5" height="5.6" fill="#fff" shape-rendering="geometricPrecision"/>
<rect x="686.1" y="500.2" width="6.5" height="7.6" fill="#000" shape-rendering="geometricPrecision"/>
<rect x="687.1" y="501.2" width="4.5" height="5.6" fill="#fff" shape-rendering="geometricPrecision"/>
<rect x="696.7" y="500.2" width="6.5" height="7.6" fill="#000" shape-rendering="geometricPrecision"/>
<rect x="697.7" y="501.2" width="4.5" height="5.6" fill="#fff" shape-rendering="geometricPrecision"/>
<rect x="595" y="501.2" width="3.4" height="5.6" fill="#fff" shape-rendering="geometricPrecision"/>
<rect x="595" y="501.2" width="3.4" height="1" fill="#000" shape-rendering="geometricPrecision"/>
<rect x="595" y="505.8" width="3.4" height="1" fill="#000" shape-rendering="geometricPrecision"/>
<rect x="596" y="503" width="1.4" height="2" fill="#000" shape-rendering="geometricPrecision"/>
<rect x="706.8" y="501.2" width="3.4" height="5.6" fill="#fff" shape-rendering="geometricPrecision"/>
<rect x="706.8" y="501.2" width="3.4" height="1" fill="#000" shape-rendering="geometricPrecision"/>
<rect x="706.8" y="505.8" width="3.4" height="1" fill="#000" shape-rendering="geometricPrecision"/>
<rect x="708.2" y="503" width="1.4" height="2" fill="#000" shape-rendering="geometricPrecision"/>
<rect x="36" y="165" width="6" height="13" fill="#000"/>
<rect x="37" y="166.6" width="4" height="1.5" fill="#fff" shape-rendering="geometricPrecision"/>
<rect x="37" y="171.6" width="4" height="1.5" fill="#fff" shape-rendering="geometricPrecision"/>
<rect x="36" y="186" width="6" height="13.6" fill="#000"/>
<rect x="37" y="187.4" width="4" height="1.5" fill="#fff" shape-rendering="geometricPrecision"/>
<rect x="37" y="192.6" width="4" height="1.5" fill="#fff" shape-rendering="geometricPrecision"/>
<rect x="37" y="197" width="4" height="1.5" fill="#fff" shape-rendering="geometricPrecision"/>
<rect x="36" y="208" width="6" height="13.5" fill="#000"/>
<rect x="37" y="209.4" width="4" height="1.5" fill="#fff" shape-rendering="geometricPrecision"/>
<rect x="37" y="214.2" width="4" height="1.5" fill="#fff" shape-rendering="geometricPrecision"/>
<rect x="37" y="218.8" width="4" height="1.5" fill="#fff" shape-rendering="geometricPrecision"/>
<rect x="36" y="232" width="6" height="13.6" fill="#000"/>
<rect x="37" y="233.4" width="4" height="1.5" fill="#fff" shape-rendering="geometricPrecision"/>
<rect x="37" y="238.8" width="4" height="1.5" fill="#fff" shape-rendering="geometricPrecision"/>
<rect x="37" y="243" width="4" height="1.5" fill="#fff" shape-rendering="geometricPrecision"/>
<rect x="36" y="258" width="6" height="26" fill="#000"/>
<rect x="37" y="259" width="4" height="5" fill="#fff"/>
<rect x="38" y="260" width="2" height="3" fill="#000"/>
<rect x="38.5" y="261" width="1" height="1" fill="#fff"/>
<rect x="37" y="270" width="4" height="1.5" fill="#fff" shape-rendering="geometricPrecision"/>
<rect x="37" y="276" width="4" height="1.5" fill="#fff" shape-rendering="geometricPrecision"/>
<rect x="37" y="280.8" width="4" height="1.5" fill="#fff" shape-rendering="geometricPrecision"/>
<rect x="36" y="300" width="6" height="31" fill="#000"/>
<rect x="37" y="301" width="4" height="5" fill="#fff"/>
<rect x="38" y="302" width="2" height="3" fill="#000"/>
<rect x="38.5" y="303" width="1" height="1" fill="#fff"/>
<rect x="37" y="312.4" width="4" height="1.5" fill="#fff" shape-rendering="geometricPrecision"/>
<rect x="37" y="318" width="4" height="1.5" fill="#fff" shape-rendering="geometricPrecision"/>
<rect x="37" y="324" width="4" height="1.5" fill="#fff" shape-rendering="geometricPrecision"/>
<rect x="484" y="132" width="20" height="7" fill="#000"/>
<rect x="485" y="133" width="5" height="5" fill="#fff"/>
<rect x="486" y="134" width="3" height="3" fill="#000"/>
<rect x="487" y="135" width="1" height="1" fill="#fff"/>
<rect x="492" y="133" width="3" height="5" fill="#fff"/>
<rect x="497" y="133" width="3" height="5" fill="#fff"/>
<rect x="501.5" y="133" width="1.5" height="5" fill="#fff"/>
<rect x="588" y="131" width="19" height="7" fill="#000"/>
<rect x="589" y="132" width="5" height="5" fill="#fff"/>
<rect x="590" y="133" width="3" height="3" fill="#000"/>
<rect x="591" y="134" width="1" height="1" fill="#fff"/>
<rect x="595.6" y="132" width="1.3" height="5" fill="#fff"/>
<rect x="599.2" y="132" width="2.2" height="5" fill="#fff"/>
<rect x="617" y="131" width="19" height="7" fill="#000"/>
<rect x="618" y="132" width="5" height="5" fill="#fff"/>
<rect x="619" y="133" width="3" height="3" fill="#000"/>
<rect x="620" y="134" width="1" height="1" fill="#fff"/>
<rect x="625" y="132" width="2" height="5" fill="#fff"/>
<rect x="628.5" y="132" width="1.5" height="5" fill="#fff"/>
<rect x="645" y="131" width="20" height="7" fill="#000"/>
<rect x="646" y="132" width="5" height="5" fill="#fff"/>
<rect x="647" y="133" width="3" height="3" fill="#000"/>
<rect x="648" y="134" width="1" height="1" fill="#fff"/>
<rect x="653" y="132" width="3" height="5" fill="#fff"/>
<rect x="658" y="132" width="3" height="5" fill="#fff"/>
<rect x="662.5" y="132" width="1.5" height="5" fill="#fff"/>
<rect x="142" y="197" width="14" height="7" fill="#000"/>
<rect x="143" y="198" width="4" height="5" fill="#fff"/>
<rect x="148.5" y="198" width="2" height="5" fill="#fff"/>
<rect x="152" y="198" width="1.5" height="5" fill="#fff"/>
<rect x="337" y="16" width="19" height="7" fill="#000"/>
<rect x="338" y="17" width="5" height="5" fill="#fff"/>
<rect x="339" y="18" width="3" height="3" fill="#000"/>
<rect x="340" y="19" width="1" height="1" fill="#fff"/>
<rect x="344" y="17" width="3" height="5" fill="#fff"/>
<rect x="348.5" y="17" width="1.5" height="5" fill="#fff"/>
<rect x="297" y="16" width="14" height="7" fill="#000"/>
<rect x="298" y="17" width="5" height="4" fill="#fff"/>
<rect x="305" y="17" width="5" height="4" fill="#fff"/>
<rect x="337" y="494" width="14" height="7" fill="#000"/>
<rect x="338" y="495" width="12" height="1" fill="#fff"/>
<rect x="338" y="496" width="1" height="4" fill="#fff"/>
<rect x="343" y="496" width="2" height="4" fill="#fff"/>
<rect x="349" y="496" width="1" height="4" fill="#fff"/>
<rect x="752" y="78" width="19" height="14" fill="#000"/>
<rect x="753" y="79" width="17" height="12" fill="#fff"/>
<rect x="754" y="80" width="4" height="4" fill="#000"/>
<rect x="759" y="80" width="5" height="4" fill="#000"/>
<rect x="765" y="80" width="5" height="4" fill="#000"/>
<rect x="754" y="86" width="4" height="4" fill="#000"/>
<rect x="759" y="86" width="5" height="4" fill="#000"/>
<rect x="765" y="86" width="5" height="4" fill="#000"/>
<rect x="754" y="86" width="4" height="4" fill="#000"/>
<rect x="755" y="87" width="2" height="2" fill="#fff"/>
<rect x="752" y="96" width="19" height="13" fill="#000"/>
<rect x="753" y="97" width="17" height="11" fill="#fff"/>
<rect x="754" y="96" width="4" height="6" fill="#000"/>
<rect x="759" y="96" width="5" height="6" fill="#000"/>
<rect x="765" y="96" width="6" height="6" fill="#000"/>
<rect x="754" y="103" width="4" height="4" fill="#000"/>
<rect x="759" y="103" width="5" height="4" fill="#000"/>
<rect x="765" y="103" width="6" height="4" fill="#000"/>
<rect x="754" y="103" width="4" height="4" fill="#000"/>
<rect x="755" y="104" width="2" height="2" fill="#fff"/>
<text x="747.6" y="82" font-size="12.3" text-anchor="middle" font-weight="normal" fill="#000">2</text>
<text x="747.6" y="99.9" font-size="12.3" text-anchor="middle" font-weight="normal" fill="#000">2</text>
<rect x="750" y="219" width="32" height="13" fill="#000"/>
<rect x="751" y="220" width="30" height="11" fill="#fff"/>
<rect x="752" y="221" width="4" height="4" fill="#000"/>
<rect x="758" y="221" width="4" height="4" fill="#000"/>
<rect x="764" y="221" width="4" height="4" fill="#000"/>
<rect x="770" y="221" width="4" height="4" fill="#000"/>
<rect x="775" y="221" width="5" height="4" fill="#000"/>
<rect x="752" y="227" width="4" height="5" fill="#000"/>
<rect x="758" y="227" width="4" height="5" fill="#000"/>
<rect x="764" y="227" width="4" height="5" fill="#000"/>
<rect x="770" y="227" width="4" height="5" fill="#000"/>
<rect x="775" y="227" width="5" height="5" fill="#000"/>
<rect x="752" y="227" width="4" height="5" fill="#000"/>
<rect x="753" y="228" width="2" height="3" fill="#fff"/>
<rect x="752" y="372" width="31" height="13" fill="#000"/>
<rect x="753" y="373" width="29" height="11" fill="#fff"/>
<rect x="754" y="372" width="4" height="6" fill="#000"/>
<rect x="760" y="372" width="4" height="6" fill="#000"/>
<rect x="766" y="372" width="4" height="6" fill="#000"/>
<rect x="771" y="372" width="5" height="6" fill="#000"/>
<rect x="777" y="372" width="6" height="6" fill="#000"/>
<rect x="754" y="379" width="4" height="4" fill="#000"/>
<rect x="760" y="379" width="4" height="4" fill="#000"/>
<rect x="766" y="379" width="4" height="4" fill="#000"/>
<rect x="771" y="379" width="5" height="4" fill="#000"/>
<rect x="777" y="379" width="6" height="4" fill="#000"/>
<rect x="777" y="372" width="6" height="6" fill="#000"/>
<rect x="778" y="373" width="4" height="4" fill="#fff"/>
<rect x="253" y="16" width="19" height="12" fill="#000"/>
<rect x="254" y="17" width="17" height="10" fill="#fff"/>
<rect x="254" y="16" width="5" height="6" fill="#000"/>
<rect x="260" y="16" width="5" height="6" fill="#000"/>
<rect x="266" y="16" width="6" height="6" fill="#000"/>
<rect x="253" y="22" width="19" height="1" fill="#000"/>
<rect x="259" y="23" width="1" height="5" fill="#000"/>
<rect x="265" y="23" width="1" height="5" fill="#000"/>
<rect x="255" y="24" width="3" height="3" fill="#000"/>
<rect x="256" y="25" width="1" height="1" fill="#fff"/>
<rect x="131.2" y="258" width="18.1" height="18.6" fill="#000"/>
<rect x="131.8" y="263.6" width="4.8" height="1" fill="#fff"/>
<rect x="131.8" y="267.6" width="4.8" height="0.8" fill="#fff"/>
<rect x="132.6" y="271.6" width="3.4" height="3.2" fill="#fff"/>
<rect x="133.5" y="272.5" width="1.6" height="1.4" fill="#000"/>
<rect x="136.75" y="258.8" width="1" height="17.8" fill="#fff"/>
<rect x="137.85" y="263.6" width="4.8" height="1" fill="#fff"/>
<rect x="137.85" y="267.6" width="4.8" height="0.8" fill="#fff"/>
<rect x="138.65" y="271.6" width="3.4" height="3.2" fill="#fff"/>
<rect x="139.55" y="272.5" width="1.6" height="1.4" fill="#000"/>
<rect x="142.8" y="258.8" width="1" height="17.8" fill="#fff"/>
<rect x="143.9" y="263.6" width="4.8" height="1" fill="#fff"/>
<rect x="143.9" y="267.6" width="4.8" height="0.8" fill="#fff"/>
<rect x="144.7" y="271.6" width="3.4" height="3.2" fill="#fff"/>
<rect x="145.6" y="272.5" width="1.6" height="1.4" fill="#000"/>
<rect x="226.3" y="35.1" width="35.4" height="18.7" fill="#000" rx="3.6" shape-rendering="geometricPrecision"/>
<polygon points="254.86,37.52 265.6,31.07 259.24,42.18" fill="#fff" stroke="#000" stroke-width="1.6" stroke-linejoin="miter" shape-rendering="geometricPrecision"/>
<polyline points="268.3,28.3 263.35,33.38" fill="none" stroke="#000" stroke-width="3.1" shape-rendering="geometricPrecision"/>
<rect x="228" y="36.8" width="31.3" height="14.6" fill="#fff" rx="2.2" shape-rendering="geometricPrecision"/>
<text x="0" y="48" font-size="13.6" text-anchor="middle" font-weight="normal" fill="#000" transform="translate(235.25 0) scale(0.82 1)">J</text>
<text x="0" y="48" font-size="13.6" text-anchor="middle" font-weight="normal" fill="#000" transform="translate(242.75 0) scale(0.82 1)">5</text>
<text x="0" y="48" font-size="13.6" text-anchor="middle" font-weight="normal" fill="#000" transform="translate(250.55 0) scale(0.82 1)">1</text>
<rect x="288.1" y="38.5" width="33.9" height="18.6" fill="#000" rx="3.6" shape-rendering="geometricPrecision"/>
<polygon points="301.1,41 304.38,27.24 307.5,41" fill="#fff" stroke="#000" stroke-width="1.6" stroke-linejoin="miter" shape-rendering="geometricPrecision"/>
<polyline points="304.4,22.9 304.36,30.86" fill="none" stroke="#000" stroke-width="3.1" shape-rendering="geometricPrecision"/>
<rect x="289.8" y="40.2" width="29.8" height="14.5" fill="#fff" rx="2.2" shape-rendering="geometricPrecision"/>
<text x="0" y="51.35" font-size="13.6" text-anchor="middle" font-weight="normal" fill="#000" transform="translate(296.3 0) scale(0.82 1)">J</text>
<text x="0" y="51.35" font-size="13.6" text-anchor="middle" font-weight="normal" fill="#000" transform="translate(303.8 0) scale(0.82 1)">4</text>
<text x="0" y="51.35" font-size="13.6" text-anchor="middle" font-weight="normal" fill="#000" transform="translate(311.6 0) scale(0.82 1)">8</text>
<rect x="352.9" y="28" width="35" height="19" fill="#000" rx="3.6" shape-rendering="geometricPrecision"/>
<polygon points="354.36,33.77 349.35,24.63 359.24,29.63" fill="#fff" stroke="#000" stroke-width="1.6" stroke-linejoin="miter" shape-rendering="geometricPrecision"/>
<polyline points="347,22.4 351.31,26.49" fill="none" stroke="#000" stroke-width="3.1" shape-rendering="geometricPrecision"/>
<rect x="354.6" y="29.7" width="30.9" height="14.9" fill="#fff" rx="2.2" shape-rendering="geometricPrecision"/>
<text x="0" y="41.05" font-size="13.6" text-anchor="middle" font-weight="normal" fill="#000" transform="translate(361.65 0) scale(0.82 1)">J</text>
<text x="0" y="41.05" font-size="13.6" text-anchor="middle" font-weight="normal" fill="#000" transform="translate(369.15 0) scale(0.82 1)">4</text>
<text x="0" y="41.05" font-size="13.6" text-anchor="middle" font-weight="normal" fill="#000" transform="translate(376.95 0) scale(0.82 1)">7</text>
<rect x="57.3" y="161.2" width="35.6" height="18.9" fill="#000" rx="3.6" shape-rendering="geometricPrecision"/>
<polygon points="59.5,167 46.2,170.2 59.5,173.4" fill="#fff" stroke="#000" stroke-width="1.6" stroke-linejoin="miter" shape-rendering="geometricPrecision"/>
<polyline points="42,170.2 49.7,170.2" fill="none" stroke="#000" stroke-width="3.1" shape-rendering="geometricPrecision"/>
<rect x="59" y="162.9" width="31.5" height="14.8" fill="#fff" rx="2.2" shape-rendering="geometricPrecision"/>
<text x="0" y="174.2" font-size="13.6" text-anchor="middle" font-weight="normal" fill="#000" transform="translate(66.35 0) scale(0.82 1)">J</text>
<text x="0" y="174.2" font-size="13.6" text-anchor="middle" font-weight="normal" fill="#000" transform="translate(73.85 0) scale(0.82 1)">2</text>
<text x="0" y="174.2" font-size="13.6" text-anchor="middle" font-weight="normal" fill="#000" transform="translate(81.65 0) scale(0.82 1)">8</text>
<rect x="57.3" y="185.2" width="35.6" height="18.5" fill="#000" rx="3.6" shape-rendering="geometricPrecision"/>
<polygon points="59.5,190.4 46.2,193.52 59.5,196.8" fill="#fff" stroke="#000" stroke-width="1.6" stroke-linejoin="miter" shape-rendering="geometricPrecision"/>
<polyline points="42,193.5 49.7,193.54" fill="none" stroke="#000" stroke-width="3.1" shape-rendering="geometricPrecision"/>
<rect x="59" y="186.9" width="31.5" height="14.4" fill="#fff" rx="2.2" shape-rendering="geometricPrecision"/>
<text x="0" y="198" font-size="13.6" text-anchor="middle" font-weight="normal" fill="#000" transform="translate(66.35 0) scale(0.82 1)">J</text>
<text x="0" y="198" font-size="13.6" text-anchor="middle" font-weight="normal" fill="#000" transform="translate(73.85 0) scale(0.82 1)">2</text>
<text x="0" y="198" font-size="13.6" text-anchor="middle" font-weight="normal" fill="#000" transform="translate(81.65 0) scale(0.82 1)">4</text>
<rect x="57.3" y="205.2" width="35.6" height="18.3" fill="#000" rx="3.6" shape-rendering="geometricPrecision"/>
<polygon points="59.5,210.8 46.2,214.15 59.5,217.2" fill="#fff" stroke="#000" stroke-width="1.6" stroke-linejoin="miter" shape-rendering="geometricPrecision"/>
<polyline points="42,214.2 49.7,214.11" fill="none" stroke="#000" stroke-width="3.1" shape-rendering="geometricPrecision"/>
<rect x="59" y="206.9" width="31.5" height="14.2" fill="#fff" rx="2.2" shape-rendering="geometricPrecision"/>
<text x="0" y="217.9" font-size="13.6" text-anchor="middle" font-weight="normal" fill="#000" transform="translate(66.35 0) scale(0.82 1)">J</text>
<text x="0" y="217.9" font-size="13.6" text-anchor="middle" font-weight="normal" fill="#000" transform="translate(73.85 0) scale(0.82 1)">2</text>
<text x="0" y="217.9" font-size="13.6" text-anchor="middle" font-weight="normal" fill="#000" transform="translate(81.65 0) scale(0.82 1)">0</text>
<rect x="57.3" y="232" width="35.6" height="18.5" fill="#000" rx="3.6" shape-rendering="geometricPrecision"/>
<polygon points="59.5,237.2 46.2,240.25 59.5,243.6" fill="#fff" stroke="#000" stroke-width="1.6" stroke-linejoin="miter" shape-rendering="geometricPrecision"/>
<polyline points="42,240.2 49.7,240.29" fill="none" stroke="#000" stroke-width="3.1" shape-rendering="geometricPrecision"/>
<rect x="59" y="233.7" width="31.5" height="14.4" fill="#fff" rx="2.2" shape-rendering="geometricPrecision"/>
<text x="0" y="244.8" font-size="13.6" text-anchor="middle" font-weight="normal" fill="#000" transform="translate(66.35 0) scale(0.82 1)">J</text>
<text x="0" y="244.8" font-size="13.6" text-anchor="middle" font-weight="normal" fill="#000" transform="translate(73.85 0) scale(0.82 1)">1</text>
<text x="0" y="244.8" font-size="13.6" text-anchor="middle" font-weight="normal" fill="#000" transform="translate(81.65 0) scale(0.82 1)">8</text>
<rect x="57.3" y="262.4" width="35.6" height="18.5" fill="#000" rx="3.6" shape-rendering="geometricPrecision"/>
<polygon points="59.5,267.8 46.2,271 59.5,274.2" fill="#fff" stroke="#000" stroke-width="1.6" stroke-linejoin="miter" shape-rendering="geometricPrecision"/>
<polyline points="42,271 49.7,271" fill="none" stroke="#000" stroke-width="3.1" shape-rendering="geometricPrecision"/>
<rect x="59" y="264.1" width="31.5" height="14.4" fill="#fff" rx="2.2" shape-rendering="geometricPrecision"/>
<text x="0" y="275.2" font-size="13.6" text-anchor="middle" font-weight="normal" fill="#000" transform="translate(66.35 0) scale(0.82 1)">J</text>
<text x="0" y="275.2" font-size="13.6" text-anchor="middle" font-weight="normal" fill="#000" transform="translate(73.85 0) scale(0.82 1)">1</text>
<text x="0" y="275.2" font-size="13.6" text-anchor="middle" font-weight="normal" fill="#000" transform="translate(81.65 0) scale(0.82 1)">7</text>
<rect x="57.3" y="305" width="35.6" height="18.5" fill="#000" rx="3.6" shape-rendering="geometricPrecision"/>
<polygon points="59.5,310.4 46.2,313.6 59.5,316.8" fill="#fff" stroke="#000" stroke-width="1.6" stroke-linejoin="miter" shape-rendering="geometricPrecision"/>
<polyline points="42,313.6 49.7,313.6" fill="none" stroke="#000" stroke-width="3.1" shape-rendering="geometricPrecision"/>
<rect x="59" y="306.7" width="31.5" height="14.4" fill="#fff" rx="2.2" shape-rendering="geometricPrecision"/>
<text x="0" y="317.8" font-size="13.6" text-anchor="middle" font-weight="normal" fill="#000" transform="translate(66.35 0) scale(0.82 1)">J</text>
<text x="0" y="317.8" font-size="13.6" text-anchor="middle" font-weight="normal" fill="#000" transform="translate(73.85 0) scale(0.82 1)">1</text>
<text x="0" y="317.8" font-size="13.6" text-anchor="middle" font-weight="normal" fill="#000" transform="translate(81.65 0) scale(0.82 1)">5</text>
<rect x="170" y="192" width="36.4" height="19.5" fill="#000" rx="3.6" shape-rendering="geometricPrecision"/>
<polygon points="172.5,198 159.96,201.05 172.5,204.4" fill="#fff" stroke="#000" stroke-width="1.6" stroke-linejoin="miter" shape-rendering="geometricPrecision"/>
<polyline points="156,201 163.26,201.09" fill="none" stroke="#000" stroke-width="3.1" shape-rendering="geometricPrecision"/>
<rect x="171.7" y="193.7" width="32.3" height="15.4" fill="#fff" rx="2.2" shape-rendering="geometricPrecision"/>
<text x="0" y="205.3" font-size="13.6" text-anchor="middle" font-weight="normal" fill="#000" transform="translate(179.45 0) scale(0.82 1)">J</text>
<text x="0" y="205.3" font-size="13.6" text-anchor="middle" font-weight="normal" fill="#000" transform="translate(186.95 0) scale(0.82 1)">2</text>
<text x="0" y="205.3" font-size="13.6" text-anchor="middle" font-weight="normal" fill="#000" transform="translate(194.75 0) scale(0.82 1)">9</text>
<rect x="124.4" y="223.4" width="33.7" height="19.1" fill="#000" rx="3.6" shape-rendering="geometricPrecision"/>
<polygon points="137.4,239 140.37,253.44 143.8,239" fill="#fff" stroke="#000" stroke-width="1.6" stroke-linejoin="miter" shape-rendering="geometricPrecision"/>
<polyline points="140.3,258 140.43,249.64" fill="none" stroke="#000" stroke-width="3.1" shape-rendering="geometricPrecision"/>
<rect x="126.1" y="225.1" width="29.6" height="15" fill="#fff" rx="2.2" shape-rendering="geometricPrecision"/>
<text x="0" y="236.5" font-size="13.6" text-anchor="middle" font-weight="normal" fill="#000" transform="translate(132.5 0) scale(0.82 1)">J</text>
<text x="0" y="236.5" font-size="13.6" text-anchor="middle" font-weight="normal" fill="#000" transform="translate(140 0) scale(0.82 1)">2</text>
<text x="0" y="236.5" font-size="13.6" text-anchor="middle" font-weight="normal" fill="#000" transform="translate(147.8 0) scale(0.82 1)">2</text>
<rect x="163.3" y="259.4" width="35.8" height="17.9" fill="#000" rx="3.6" shape-rendering="geometricPrecision"/>
<polygon points="165.5,265 153.19,268.05 165.5,271.4" fill="#fff" stroke="#000" stroke-width="1.6" stroke-linejoin="miter" shape-rendering="geometricPrecision"/>
<polyline points="149.3,268 156.43,268.09" fill="none" stroke="#000" stroke-width="3.1" shape-rendering="geometricPrecision"/>
<rect x="165" y="261.1" width="31.7" height="13.8" fill="#fff" rx="2.2" shape-rendering="geometricPrecision"/>
<text x="0" y="271.9" font-size="13.6" text-anchor="middle" font-weight="normal" fill="#000" transform="translate(172.45 0) scale(0.82 1)">J</text>
<text x="0" y="271.9" font-size="13.6" text-anchor="middle" font-weight="normal" fill="#000" transform="translate(179.95 0) scale(0.82 1)">2</text>
<text x="0" y="271.9" font-size="13.6" text-anchor="middle" font-weight="normal" fill="#000" transform="translate(187.75 0) scale(0.82 1)">1</text>
<rect x="140.6" y="283.3" width="34.6" height="17.9" fill="#000" rx="3.6" shape-rendering="geometricPrecision"/>
<polygon points="142.13,288.54 136.76,279.06 147.57,285.16" fill="#fff" stroke="#000" stroke-width="1.6" stroke-linejoin="miter" shape-rendering="geometricPrecision"/>
<polyline points="134.2,276.6 138.89,281.11" fill="none" stroke="#000" stroke-width="3.1" shape-rendering="geometricPrecision"/>
<rect x="142.3" y="285" width="30.5" height="13.8" fill="#fff" rx="2.2" shape-rendering="geometricPrecision"/>
<text x="0" y="295.8" font-size="13.6" text-anchor="middle" font-weight="normal" fill="#000" transform="translate(149.15 0) scale(0.82 1)">J</text>
<text x="0" y="295.8" font-size="13.6" text-anchor="middle" font-weight="normal" fill="#000" transform="translate(156.65 0) scale(0.82 1)">2</text>
<text x="0" y="295.8" font-size="13.6" text-anchor="middle" font-weight="normal" fill="#000" transform="translate(164.45 0) scale(0.82 1)">3</text>
<rect x="433.8" y="125.8" width="36.1" height="19.1" fill="#000" rx="3.6" shape-rendering="geometricPrecision"/>
<polygon points="466.8,131.8 480.25,135.23 466.8,138.2" fill="#fff" stroke="#000" stroke-width="1.6" stroke-linejoin="miter" shape-rendering="geometricPrecision"/>
<polyline points="484.5,135.3 476.71,135.17" fill="none" stroke="#000" stroke-width="3.1" shape-rendering="geometricPrecision"/>
<rect x="435.5" y="127.5" width="32" height="15" fill="#fff" rx="2.2" shape-rendering="geometricPrecision"/>
<text x="0" y="138.9" font-size="13.6" text-anchor="middle" font-weight="normal" fill="#000" transform="translate(443.1 0) scale(0.82 1)">J</text>
<text x="0" y="138.9" font-size="13.6" text-anchor="middle" font-weight="normal" fill="#000" transform="translate(450.6 0) scale(0.82 1)">4</text>
<text x="0" y="138.9" font-size="13.6" text-anchor="middle" font-weight="normal" fill="#000" transform="translate(458.4 0) scale(0.82 1)">0</text>
<rect x="537.8" y="125" width="35.9" height="18.9" fill="#000" rx="3.6" shape-rendering="geometricPrecision"/>
<polygon points="570.5,130.8 584.33,134.3 570.5,137.2" fill="#fff" stroke="#000" stroke-width="1.6" stroke-linejoin="miter" shape-rendering="geometricPrecision"/>
<polyline points="588.7,134.4 580.69,134.22" fill="none" stroke="#000" stroke-width="3.1" shape-rendering="geometricPrecision"/>
<rect x="539.5" y="126.7" width="31.8" height="14.8" fill="#fff" rx="2.2" shape-rendering="geometricPrecision"/>
<text x="0" y="138" font-size="13.6" text-anchor="middle" font-weight="normal" fill="#000" transform="translate(547 0) scale(0.82 1)">J</text>
<text x="0" y="138" font-size="13.6" text-anchor="middle" font-weight="normal" fill="#000" transform="translate(554.5 0) scale(0.82 1)">3</text>
<text x="0" y="138" font-size="13.6" text-anchor="middle" font-weight="normal" fill="#000" transform="translate(562.3 0) scale(0.82 1)">9</text>
<rect x="642.5" y="110.4" width="34.8" height="18.3" fill="#000" rx="3.6" shape-rendering="geometricPrecision"/>
<polygon points="643.92,123.21 637.96,133.92 649.48,126.39" fill="#fff" stroke="#000" stroke-width="1.6" stroke-linejoin="miter" shape-rendering="geometricPrecision"/>
<polyline points="635.2,136.8 640.26,131.52" fill="none" stroke="#000" stroke-width="3.1" shape-rendering="geometricPrecision"/>
<rect x="644.2" y="112.1" width="30.7" height="14.2" fill="#fff" rx="2.2" shape-rendering="geometricPrecision"/>
<text x="0" y="123.1" font-size="13.6" text-anchor="middle" font-weight="normal" fill="#000" transform="translate(651.15 0) scale(0.82 1)">J</text>
<text x="0" y="123.1" font-size="13.6" text-anchor="middle" font-weight="normal" fill="#000" transform="translate(658.65 0) scale(0.82 1)">3</text>
<text x="0" y="123.1" font-size="13.6" text-anchor="middle" font-weight="normal" fill="#000" transform="translate(666.45 0) scale(0.82 1)">8</text>
<rect x="679.2" y="125.2" width="36.2" height="19.1" fill="#000" rx="3.6" shape-rendering="geometricPrecision"/>
<polygon points="681.5,130.9 668.58,134.25 681.5,137.3" fill="#fff" stroke="#000" stroke-width="1.6" stroke-linejoin="miter" shape-rendering="geometricPrecision"/>
<polyline points="664.5,134.3 671.98,134.21" fill="none" stroke="#000" stroke-width="3.1" shape-rendering="geometricPrecision"/>
<rect x="680.9" y="126.9" width="32.1" height="15" fill="#fff" rx="2.2" shape-rendering="geometricPrecision"/>
<text x="0" y="138.3" font-size="13.6" text-anchor="middle" font-weight="normal" fill="#000" transform="translate(688.55 0) scale(0.82 1)">J</text>
<text x="0" y="138.3" font-size="13.6" text-anchor="middle" font-weight="normal" fill="#000" transform="translate(696.05 0) scale(0.82 1)">3</text>
<text x="0" y="138.3" font-size="13.6" text-anchor="middle" font-weight="normal" fill="#000" transform="translate(703.85 0) scale(0.82 1)">7</text>
<rect x="725.4" y="54" width="34.7" height="18" fill="#000" rx="3.6" shape-rendering="geometricPrecision"/>
<polygon points="753.9,68.75 764.94,75.79 757.9,63.75" fill="#fff" stroke="#000" stroke-width="1.6" stroke-linejoin="miter" shape-rendering="geometricPrecision"/>
<polyline points="767.8,78.8 762.56,73.28" fill="none" stroke="#000" stroke-width="3.1" shape-rendering="geometricPrecision"/>
<rect x="727.1" y="55.7" width="30.6" height="13.9" fill="#fff" rx="2.2" shape-rendering="geometricPrecision"/>
<text x="0" y="66.55" font-size="13.6" text-anchor="middle" font-weight="normal" fill="#000" transform="translate(734 0) scale(0.82 1)">J</text>
<text x="0" y="66.55" font-size="13.6" text-anchor="middle" font-weight="normal" fill="#000" transform="translate(741.5 0) scale(0.82 1)">4</text>
<text x="0" y="66.55" font-size="13.6" text-anchor="middle" font-weight="normal" fill="#000" transform="translate(749.3 0) scale(0.82 1)">4</text>
<rect x="722.6" y="115.8" width="34.6" height="18.4" fill="#000" rx="3.6" shape-rendering="geometricPrecision"/>
<polygon points="749.74,118.24 760.74,111.46 754.26,122.76" fill="#fff" stroke="#000" stroke-width="1.6" stroke-linejoin="miter" shape-rendering="geometricPrecision"/>
<polyline points="763.5,108.6 758.44,113.84" fill="none" stroke="#000" stroke-width="3.1" shape-rendering="geometricPrecision"/>
<rect x="724.3" y="117.5" width="30.5" height="14.3" fill="#fff" rx="2.2" shape-rendering="geometricPrecision"/>
<text x="0" y="128.55" font-size="13.6" text-anchor="middle" font-weight="normal" fill="#000" transform="translate(731.15 0) scale(0.82 1)">J</text>
<text x="0" y="128.55" font-size="13.6" text-anchor="middle" font-weight="normal" fill="#000" transform="translate(738.65 0) scale(0.82 1)">4</text>
<text x="0" y="128.55" font-size="13.6" text-anchor="middle" font-weight="normal" fill="#000" transform="translate(746.45 0) scale(0.82 1)">3</text>
<rect x="701" y="216.2" width="35.2" height="18.4" fill="#000" rx="3.6" shape-rendering="geometricPrecision"/>
<polygon points="733,222.1 745.77,225.53 733,228.5" fill="#fff" stroke="#000" stroke-width="1.6" stroke-linejoin="miter" shape-rendering="geometricPrecision"/>
<polyline points="749.8,225.6 742.41,225.47" fill="none" stroke="#000" stroke-width="3.1" shape-rendering="geometricPrecision"/>
<rect x="702.7" y="217.9" width="31.1" height="14.3" fill="#fff" rx="2.2" shape-rendering="geometricPrecision"/>
<text x="0" y="228.95" font-size="13.6" text-anchor="middle" font-weight="normal" fill="#000" transform="translate(709.85 0) scale(0.82 1)">J</text>
<text x="0" y="228.95" font-size="13.6" text-anchor="middle" font-weight="normal" fill="#000" transform="translate(717.35 0) scale(0.82 1)">2</text>
<text x="0" y="228.95" font-size="13.6" text-anchor="middle" font-weight="normal" fill="#000" transform="translate(725.15 0) scale(0.82 1)">5</text>
<rect x="750.2" y="337.2" width="33.7" height="19.4" fill="#000" rx="3.6" shape-rendering="geometricPrecision"/>
<polygon points="762.9,353 766.18,367.29 769.3,353" fill="#fff" stroke="#000" stroke-width="1.6" stroke-linejoin="miter" shape-rendering="geometricPrecision"/>
<polyline points="766.2,371.8 766.16,363.53" fill="none" stroke="#000" stroke-width="3.1" shape-rendering="geometricPrecision"/>
<rect x="751.9" y="338.9" width="29.6" height="15.3" fill="#fff" rx="2.2" shape-rendering="geometricPrecision"/>
<text x="0" y="350.45" font-size="13.6" text-anchor="middle" font-weight="normal" fill="#000" transform="translate(758.3 0) scale(0.82 1)">J</text>
<text x="0" y="350.45" font-size="13.6" text-anchor="middle" font-weight="normal" fill="#000" transform="translate(765.8 0) scale(0.82 1)">1</text>
<text x="0" y="350.45" font-size="13.6" text-anchor="middle" font-weight="normal" fill="#000" transform="translate(773.6 0) scale(0.82 1)">3</text>
<rect x="391.3" y="367.3" width="34.6" height="18.7" fill="#000" rx="3.6" shape-rendering="geometricPrecision"/>
<polygon points="418.74,382.26 429.21,388.59 423.26,377.74" fill="#fff" stroke="#000" stroke-width="1.6" stroke-linejoin="miter" shape-rendering="geometricPrecision"/>
<polyline points="431.8,391.3 427.05,386.33" fill="none" stroke="#000" stroke-width="3.1" shape-rendering="geometricPrecision"/>
<rect x="393" y="369" width="30.5" height="14.6" fill="#fff" rx="2.2" shape-rendering="geometricPrecision"/>
<text x="0" y="380.2" font-size="13.6" text-anchor="middle" font-weight="normal" fill="#000" transform="translate(399.85 0) scale(0.82 1)">J</text>
<text x="0" y="380.2" font-size="13.6" text-anchor="middle" font-weight="normal" fill="#000" transform="translate(407.35 0) scale(0.82 1)">1</text>
<text x="0" y="380.2" font-size="13.6" text-anchor="middle" font-weight="normal" fill="#000" transform="translate(415.15 0) scale(0.82 1)">0</text>
<rect x="357.4" y="419.9" width="36.7" height="18.8" fill="#000" rx="3.6" shape-rendering="geometricPrecision"/>
<polygon points="391,426 404.53,429.28 391,432.4" fill="#fff" stroke="#000" stroke-width="1.6" stroke-linejoin="miter" shape-rendering="geometricPrecision"/>
<polyline points="408.8,429.3 400.97,429.26" fill="none" stroke="#000" stroke-width="3.1" shape-rendering="geometricPrecision"/>
<rect x="359.1" y="421.6" width="32.6" height="14.7" fill="#fff" rx="2.2" shape-rendering="geometricPrecision"/>
<text x="0" y="432.85" font-size="13.6" text-anchor="middle" font-weight="normal" fill="#000" transform="translate(367 0) scale(0.82 1)">J</text>
<text x="0" y="432.85" font-size="13.6" text-anchor="middle" font-weight="normal" fill="#000" transform="translate(374.5 0) scale(0.82 1)">1</text>
<text x="0" y="432.85" font-size="13.6" text-anchor="middle" font-weight="normal" fill="#000" transform="translate(382.3 0) scale(0.82 1)">1</text>
<rect x="459.2" y="439.2" width="25.7" height="19.1" fill="#000" rx="3.6" shape-rendering="geometricPrecision"/>
<polygon points="481.8,445 494.8,448.2 481.8,451.4" fill="#fff" stroke="#000" stroke-width="1.6" stroke-linejoin="miter" shape-rendering="geometricPrecision"/>
<polyline points="498.9,448.2 491.38,448.2" fill="none" stroke="#000" stroke-width="3.1" shape-rendering="geometricPrecision"/>
<rect x="460.9" y="440.9" width="21.6" height="15" fill="#fff" rx="2.2" shape-rendering="geometricPrecision"/>
<text x="0" y="452.3" font-size="13.6" text-anchor="middle" font-weight="normal" fill="#000" transform="translate(467.2 0) scale(0.82 1)">J</text>
<text x="0" y="452.3" font-size="13.6" text-anchor="middle" font-weight="normal" fill="#000" transform="translate(474.7 0) scale(0.82 1)">8</text>
<rect x="708.2" y="440.2" width="25.9" height="18.1" fill="#000" rx="3.6" shape-rendering="geometricPrecision"/>
<polygon points="710.5,445.6 697.66,448.8 710.5,452" fill="#fff" stroke="#000" stroke-width="1.6" stroke-linejoin="miter" shape-rendering="geometricPrecision"/>
<polyline points="693.6,448.8 701.04,448.8" fill="none" stroke="#000" stroke-width="3.1" shape-rendering="geometricPrecision"/>
<rect x="709.9" y="441.9" width="21.8" height="14" fill="#fff" rx="2.2" shape-rendering="geometricPrecision"/>
<text x="0" y="452.8" font-size="13.6" text-anchor="middle" font-weight="normal" fill="#000" transform="translate(716.3 0) scale(0.82 1)">J</text>
<text x="0" y="452.8" font-size="13.6" text-anchor="middle" font-weight="normal" fill="#000" transform="translate(723.8 0) scale(0.82 1)">7</text>
<rect x="692.2" y="461.5" width="24.8" height="18.1" fill="#000" rx="3.6" shape-rendering="geometricPrecision"/>
<polygon points="710.9,475.78 722.08,483.17 714.8,470.72" fill="#fff" stroke="#000" stroke-width="1.6" stroke-linejoin="miter" shape-rendering="geometricPrecision"/>
<polyline points="725,486.3 719.65,480.56" fill="none" stroke="#000" stroke-width="3.1" shape-rendering="geometricPrecision"/>
<rect x="693.9" y="463.2" width="20.7" height="14" fill="#fff" rx="2.2" shape-rendering="geometricPrecision"/>
<text x="0" y="474.1" font-size="13.6" text-anchor="middle" font-weight="normal" fill="#000" transform="translate(699.75 0) scale(0.82 1)">J</text>
<text x="0" y="474.1" font-size="13.6" text-anchor="middle" font-weight="normal" fill="#000" transform="translate(707.25 0) scale(0.82 1)">5</text>
<rect x="774.3" y="485.2" width="25.7" height="18.4" fill="#000" rx="3.6" shape-rendering="geometricPrecision"/>
<polygon points="776.5,490.7 763.96,493.98 776.5,497.1" fill="#fff" stroke="#000" stroke-width="1.6" stroke-linejoin="miter" shape-rendering="geometricPrecision"/>
<polyline points="760,494 767.26,493.96" fill="none" stroke="#000" stroke-width="3.1" shape-rendering="geometricPrecision"/>
<rect x="776" y="486.9" width="21.6" height="14.3" fill="#fff" rx="2.2" shape-rendering="geometricPrecision"/>
<text x="0" y="497.95" font-size="13.6" text-anchor="middle" font-weight="normal" fill="#000" transform="translate(782.3 0) scale(0.82 1)">J</text>
<text x="0" y="497.95" font-size="13.6" text-anchor="middle" font-weight="normal" fill="#000" transform="translate(789.8 0) scale(0.82 1)">4</text>
<rect x="297.1" y="488.9" width="26.1" height="19.5" fill="#000" rx="3.6" shape-rendering="geometricPrecision"/>
<polygon points="320,494.4 333,497.6 320,500.8" fill="#fff" stroke="#000" stroke-width="1.6" stroke-linejoin="miter" shape-rendering="geometricPrecision"/>
<polyline points="337.1,497.6 329.58,497.6" fill="none" stroke="#000" stroke-width="3.1" shape-rendering="geometricPrecision"/>
<rect x="298.8" y="490.6" width="22" height="15.4" fill="#fff" rx="2.2" shape-rendering="geometricPrecision"/>
<text x="0" y="502.2" font-size="13.6" text-anchor="middle" font-weight="normal" fill="#000" transform="translate(305.3 0) scale(0.82 1)">J</text>
<text x="0" y="502.2" font-size="13.6" text-anchor="middle" font-weight="normal" fill="#000" transform="translate(312.8 0) scale(0.82 1)">1</text>
</svg>
</body></html>
